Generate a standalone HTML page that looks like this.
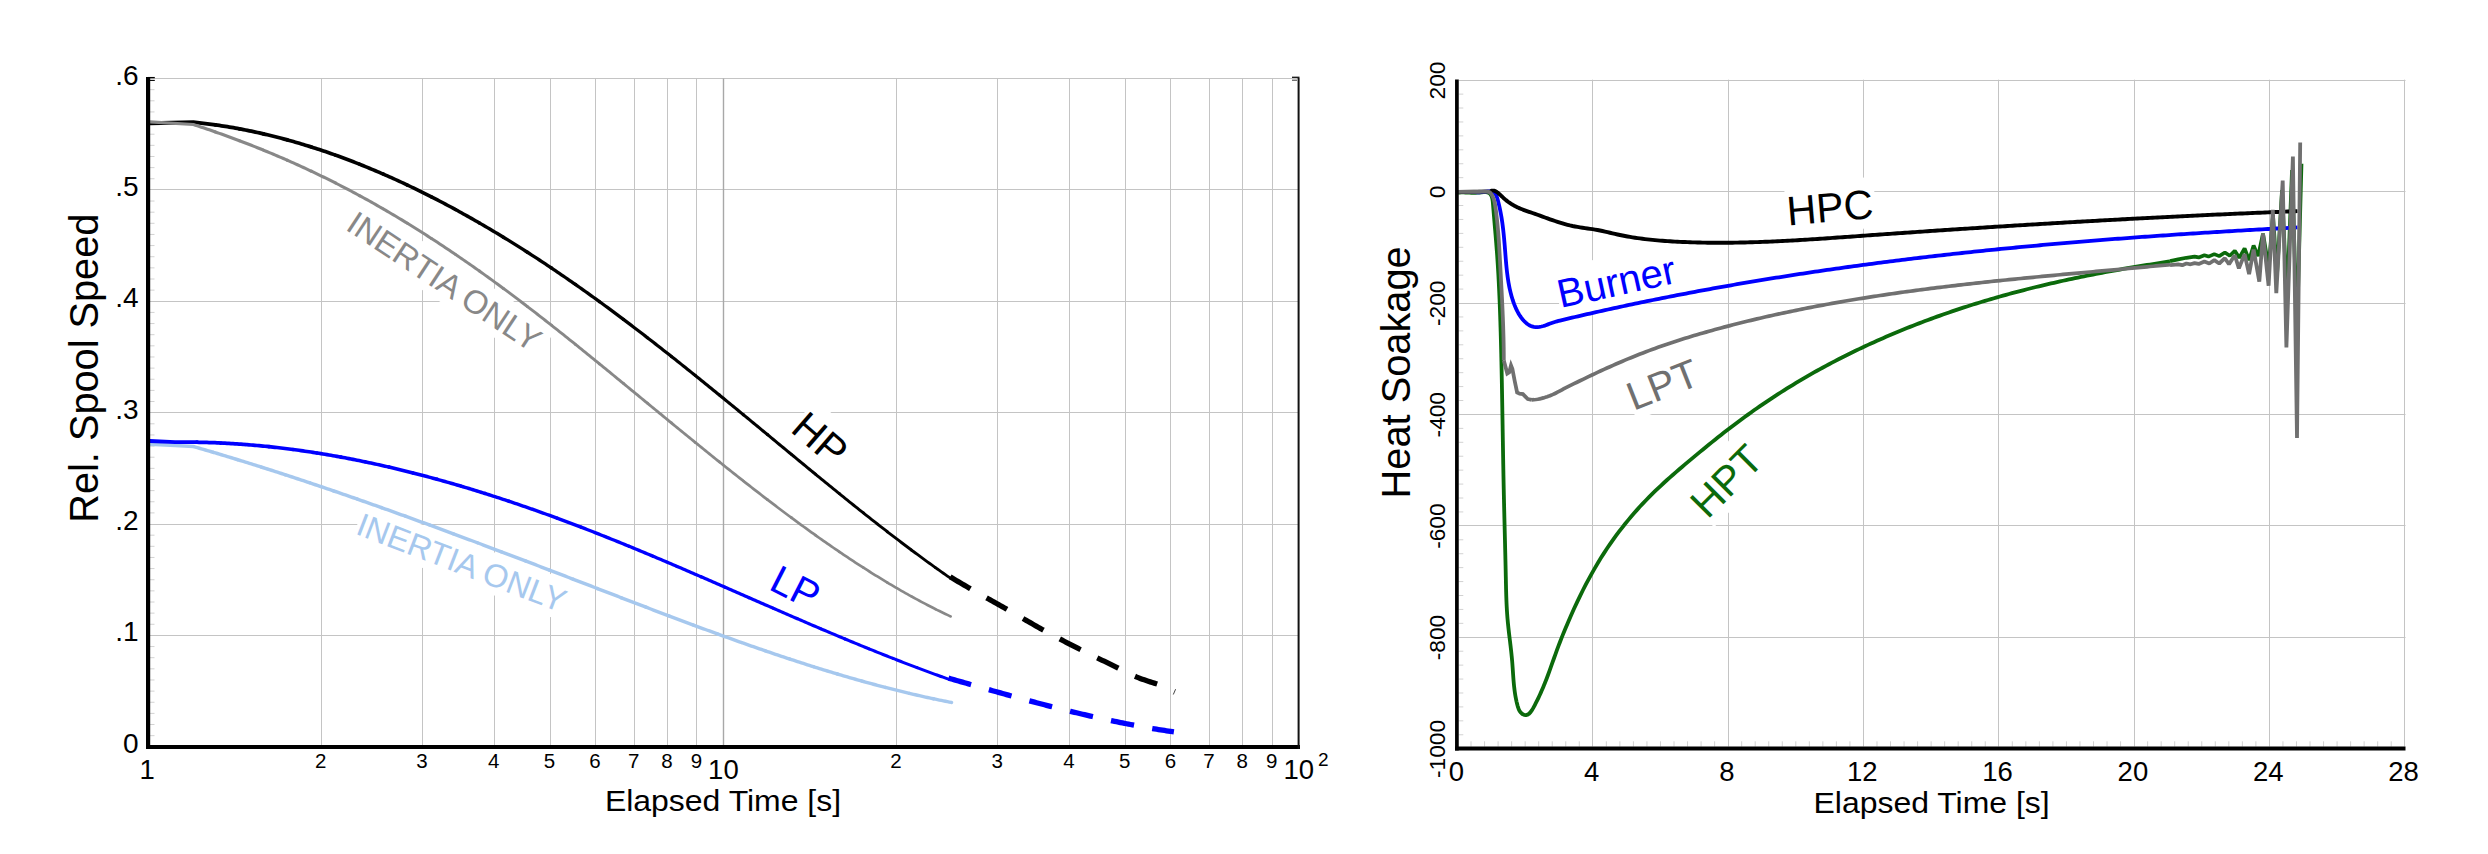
<!DOCTYPE html>
<html><head><meta charset="utf-8"><style>
html,body{margin:0;padding:0;background:#fff;width:2488px;height:854px;overflow:hidden}
svg{display:block}
</style></head><body>
<svg width="2488" height="854" viewBox="0 0 2488 854">
<rect width="2488" height="854" fill="#fff"/>
<line x1="150" y1="635.50" x2="1298" y2="635.50" stroke="#c4c4c4" stroke-width="1"/>
<line x1="150" y1="524.50" x2="1298" y2="524.50" stroke="#c4c4c4" stroke-width="1"/>
<line x1="150" y1="412.50" x2="1298" y2="412.50" stroke="#c4c4c4" stroke-width="1"/>
<line x1="150" y1="301.50" x2="1298" y2="301.50" stroke="#c4c4c4" stroke-width="1"/>
<line x1="150" y1="189.50" x2="1298" y2="189.50" stroke="#c4c4c4" stroke-width="1"/>
<line x1="150" y1="78.50" x2="1298" y2="78.50" stroke="#c4c4c4" stroke-width="1"/>
<line x1="321.50" y1="78.52" x2="321.50" y2="745" stroke="#c4c4c4" stroke-width="1"/>
<line x1="422.50" y1="78.52" x2="422.50" y2="745" stroke="#c4c4c4" stroke-width="1"/>
<line x1="494.50" y1="78.52" x2="494.50" y2="745" stroke="#c4c4c4" stroke-width="1"/>
<line x1="550.50" y1="78.52" x2="550.50" y2="745" stroke="#c4c4c4" stroke-width="1"/>
<line x1="595.50" y1="78.52" x2="595.50" y2="745" stroke="#c4c4c4" stroke-width="1"/>
<line x1="634.50" y1="78.52" x2="634.50" y2="745" stroke="#c4c4c4" stroke-width="1"/>
<line x1="667.50" y1="78.52" x2="667.50" y2="745" stroke="#c4c4c4" stroke-width="1"/>
<line x1="696.50" y1="78.52" x2="696.50" y2="745" stroke="#c4c4c4" stroke-width="1"/>
<line x1="723.50" y1="78.52" x2="723.50" y2="745" stroke="#a8a8a8" stroke-width="1.4"/>
<line x1="896.50" y1="78.52" x2="896.50" y2="745" stroke="#c4c4c4" stroke-width="1"/>
<line x1="997.50" y1="78.52" x2="997.50" y2="745" stroke="#c4c4c4" stroke-width="1"/>
<line x1="1069.50" y1="78.52" x2="1069.50" y2="745" stroke="#c4c4c4" stroke-width="1"/>
<line x1="1125.50" y1="78.52" x2="1125.50" y2="745" stroke="#c4c4c4" stroke-width="1"/>
<line x1="1170.50" y1="78.52" x2="1170.50" y2="745" stroke="#c4c4c4" stroke-width="1"/>
<line x1="1209.50" y1="78.52" x2="1209.50" y2="745" stroke="#c4c4c4" stroke-width="1"/>
<line x1="1242.50" y1="78.52" x2="1242.50" y2="745" stroke="#c4c4c4" stroke-width="1"/>
<line x1="1272.50" y1="78.52" x2="1272.50" y2="745" stroke="#c4c4c4" stroke-width="1"/>
<line x1="150" y1="735.66" x2="154.5" y2="735.66" stroke="#d2d2d2" stroke-width="1"/>
<line x1="150" y1="724.52" x2="154.5" y2="724.52" stroke="#d2d2d2" stroke-width="1"/>
<line x1="150" y1="713.39" x2="154.5" y2="713.39" stroke="#d2d2d2" stroke-width="1"/>
<line x1="150" y1="702.25" x2="154.5" y2="702.25" stroke="#d2d2d2" stroke-width="1"/>
<line x1="150" y1="691.11" x2="154.5" y2="691.11" stroke="#d2d2d2" stroke-width="1"/>
<line x1="150" y1="679.97" x2="154.5" y2="679.97" stroke="#d2d2d2" stroke-width="1"/>
<line x1="150" y1="668.83" x2="154.5" y2="668.83" stroke="#d2d2d2" stroke-width="1"/>
<line x1="150" y1="657.70" x2="154.5" y2="657.70" stroke="#d2d2d2" stroke-width="1"/>
<line x1="150" y1="646.56" x2="154.5" y2="646.56" stroke="#d2d2d2" stroke-width="1"/>
<line x1="150" y1="624.28" x2="154.5" y2="624.28" stroke="#d2d2d2" stroke-width="1"/>
<line x1="150" y1="613.14" x2="154.5" y2="613.14" stroke="#d2d2d2" stroke-width="1"/>
<line x1="150" y1="602.01" x2="154.5" y2="602.01" stroke="#d2d2d2" stroke-width="1"/>
<line x1="150" y1="590.87" x2="154.5" y2="590.87" stroke="#d2d2d2" stroke-width="1"/>
<line x1="150" y1="579.73" x2="154.5" y2="579.73" stroke="#d2d2d2" stroke-width="1"/>
<line x1="150" y1="568.59" x2="154.5" y2="568.59" stroke="#d2d2d2" stroke-width="1"/>
<line x1="150" y1="557.45" x2="154.5" y2="557.45" stroke="#d2d2d2" stroke-width="1"/>
<line x1="150" y1="546.32" x2="154.5" y2="546.32" stroke="#d2d2d2" stroke-width="1"/>
<line x1="150" y1="535.18" x2="154.5" y2="535.18" stroke="#d2d2d2" stroke-width="1"/>
<line x1="150" y1="512.90" x2="154.5" y2="512.90" stroke="#d2d2d2" stroke-width="1"/>
<line x1="150" y1="501.76" x2="154.5" y2="501.76" stroke="#d2d2d2" stroke-width="1"/>
<line x1="150" y1="490.63" x2="154.5" y2="490.63" stroke="#d2d2d2" stroke-width="1"/>
<line x1="150" y1="479.49" x2="154.5" y2="479.49" stroke="#d2d2d2" stroke-width="1"/>
<line x1="150" y1="468.35" x2="154.5" y2="468.35" stroke="#d2d2d2" stroke-width="1"/>
<line x1="150" y1="457.21" x2="154.5" y2="457.21" stroke="#d2d2d2" stroke-width="1"/>
<line x1="150" y1="446.07" x2="154.5" y2="446.07" stroke="#d2d2d2" stroke-width="1"/>
<line x1="150" y1="434.94" x2="154.5" y2="434.94" stroke="#d2d2d2" stroke-width="1"/>
<line x1="150" y1="423.80" x2="154.5" y2="423.80" stroke="#d2d2d2" stroke-width="1"/>
<line x1="150" y1="401.52" x2="154.5" y2="401.52" stroke="#d2d2d2" stroke-width="1"/>
<line x1="150" y1="390.38" x2="154.5" y2="390.38" stroke="#d2d2d2" stroke-width="1"/>
<line x1="150" y1="379.25" x2="154.5" y2="379.25" stroke="#d2d2d2" stroke-width="1"/>
<line x1="150" y1="368.11" x2="154.5" y2="368.11" stroke="#d2d2d2" stroke-width="1"/>
<line x1="150" y1="356.97" x2="154.5" y2="356.97" stroke="#d2d2d2" stroke-width="1"/>
<line x1="150" y1="345.83" x2="154.5" y2="345.83" stroke="#d2d2d2" stroke-width="1"/>
<line x1="150" y1="334.69" x2="154.5" y2="334.69" stroke="#d2d2d2" stroke-width="1"/>
<line x1="150" y1="323.56" x2="154.5" y2="323.56" stroke="#d2d2d2" stroke-width="1"/>
<line x1="150" y1="312.42" x2="154.5" y2="312.42" stroke="#d2d2d2" stroke-width="1"/>
<line x1="150" y1="290.14" x2="154.5" y2="290.14" stroke="#d2d2d2" stroke-width="1"/>
<line x1="150" y1="279.00" x2="154.5" y2="279.00" stroke="#d2d2d2" stroke-width="1"/>
<line x1="150" y1="267.87" x2="154.5" y2="267.87" stroke="#d2d2d2" stroke-width="1"/>
<line x1="150" y1="256.73" x2="154.5" y2="256.73" stroke="#d2d2d2" stroke-width="1"/>
<line x1="150" y1="245.59" x2="154.5" y2="245.59" stroke="#d2d2d2" stroke-width="1"/>
<line x1="150" y1="234.45" x2="154.5" y2="234.45" stroke="#d2d2d2" stroke-width="1"/>
<line x1="150" y1="223.31" x2="154.5" y2="223.31" stroke="#d2d2d2" stroke-width="1"/>
<line x1="150" y1="212.18" x2="154.5" y2="212.18" stroke="#d2d2d2" stroke-width="1"/>
<line x1="150" y1="201.04" x2="154.5" y2="201.04" stroke="#d2d2d2" stroke-width="1"/>
<line x1="150" y1="178.76" x2="154.5" y2="178.76" stroke="#d2d2d2" stroke-width="1"/>
<line x1="150" y1="167.62" x2="154.5" y2="167.62" stroke="#d2d2d2" stroke-width="1"/>
<line x1="150" y1="156.49" x2="154.5" y2="156.49" stroke="#d2d2d2" stroke-width="1"/>
<line x1="150" y1="145.35" x2="154.5" y2="145.35" stroke="#d2d2d2" stroke-width="1"/>
<line x1="150" y1="134.21" x2="154.5" y2="134.21" stroke="#d2d2d2" stroke-width="1"/>
<line x1="150" y1="123.07" x2="154.5" y2="123.07" stroke="#d2d2d2" stroke-width="1"/>
<line x1="150" y1="111.93" x2="154.5" y2="111.93" stroke="#d2d2d2" stroke-width="1"/>
<line x1="150" y1="100.80" x2="154.5" y2="100.80" stroke="#d2d2d2" stroke-width="1"/>
<line x1="150" y1="89.66" x2="154.5" y2="89.66" stroke="#d2d2d2" stroke-width="1"/>
<line x1="1459" y1="80.50" x2="2405.5" y2="80.50" stroke="#c4c4c4" stroke-width="1"/>
<line x1="1459" y1="191.50" x2="2405.5" y2="191.50" stroke="#c4c4c4" stroke-width="1"/>
<line x1="1459" y1="303.50" x2="2405.5" y2="303.50" stroke="#c4c4c4" stroke-width="1"/>
<line x1="1459" y1="414.50" x2="2405.5" y2="414.50" stroke="#c4c4c4" stroke-width="1"/>
<line x1="1459" y1="525.50" x2="2405.5" y2="525.50" stroke="#c4c4c4" stroke-width="1"/>
<line x1="1459" y1="637.50" x2="2405.5" y2="637.50" stroke="#c4c4c4" stroke-width="1"/>
<line x1="1592.50" y1="79.68" x2="1592.50" y2="746.5" stroke="#c4c4c4" stroke-width="1"/>
<line x1="1728.50" y1="79.68" x2="1728.50" y2="746.5" stroke="#c4c4c4" stroke-width="1"/>
<line x1="1863.50" y1="79.68" x2="1863.50" y2="746.5" stroke="#c4c4c4" stroke-width="1"/>
<line x1="1998.50" y1="79.68" x2="1998.50" y2="746.5" stroke="#c4c4c4" stroke-width="1"/>
<line x1="2134.50" y1="79.68" x2="2134.50" y2="746.5" stroke="#c4c4c4" stroke-width="1"/>
<line x1="2269.50" y1="79.68" x2="2269.50" y2="746.5" stroke="#c4c4c4" stroke-width="1"/>
<line x1="2404.50" y1="79.68" x2="2404.50" y2="746.5" stroke="#c4c4c4" stroke-width="1"/>
<line x1="1471.03" y1="746.6" x2="1471.03" y2="741.3" stroke="#d2d2d2" stroke-width="1"/>
<line x1="1484.56" y1="746.6" x2="1484.56" y2="741.3" stroke="#d2d2d2" stroke-width="1"/>
<line x1="1498.10" y1="746.6" x2="1498.10" y2="741.3" stroke="#d2d2d2" stroke-width="1"/>
<line x1="1511.63" y1="746.6" x2="1511.63" y2="741.3" stroke="#d2d2d2" stroke-width="1"/>
<line x1="1525.16" y1="746.6" x2="1525.16" y2="741.3" stroke="#d2d2d2" stroke-width="1"/>
<line x1="1538.69" y1="746.6" x2="1538.69" y2="741.3" stroke="#d2d2d2" stroke-width="1"/>
<line x1="1552.22" y1="746.6" x2="1552.22" y2="741.3" stroke="#d2d2d2" stroke-width="1"/>
<line x1="1565.76" y1="746.6" x2="1565.76" y2="741.3" stroke="#d2d2d2" stroke-width="1"/>
<line x1="1579.29" y1="746.6" x2="1579.29" y2="741.3" stroke="#d2d2d2" stroke-width="1"/>
<line x1="1606.35" y1="746.6" x2="1606.35" y2="741.3" stroke="#d2d2d2" stroke-width="1"/>
<line x1="1619.88" y1="746.6" x2="1619.88" y2="741.3" stroke="#d2d2d2" stroke-width="1"/>
<line x1="1633.42" y1="746.6" x2="1633.42" y2="741.3" stroke="#d2d2d2" stroke-width="1"/>
<line x1="1646.95" y1="746.6" x2="1646.95" y2="741.3" stroke="#d2d2d2" stroke-width="1"/>
<line x1="1660.48" y1="746.6" x2="1660.48" y2="741.3" stroke="#d2d2d2" stroke-width="1"/>
<line x1="1674.01" y1="746.6" x2="1674.01" y2="741.3" stroke="#d2d2d2" stroke-width="1"/>
<line x1="1687.54" y1="746.6" x2="1687.54" y2="741.3" stroke="#d2d2d2" stroke-width="1"/>
<line x1="1701.08" y1="746.6" x2="1701.08" y2="741.3" stroke="#d2d2d2" stroke-width="1"/>
<line x1="1714.61" y1="746.6" x2="1714.61" y2="741.3" stroke="#d2d2d2" stroke-width="1"/>
<line x1="1741.67" y1="746.6" x2="1741.67" y2="741.3" stroke="#d2d2d2" stroke-width="1"/>
<line x1="1755.20" y1="746.6" x2="1755.20" y2="741.3" stroke="#d2d2d2" stroke-width="1"/>
<line x1="1768.74" y1="746.6" x2="1768.74" y2="741.3" stroke="#d2d2d2" stroke-width="1"/>
<line x1="1782.27" y1="746.6" x2="1782.27" y2="741.3" stroke="#d2d2d2" stroke-width="1"/>
<line x1="1795.80" y1="746.6" x2="1795.80" y2="741.3" stroke="#d2d2d2" stroke-width="1"/>
<line x1="1809.33" y1="746.6" x2="1809.33" y2="741.3" stroke="#d2d2d2" stroke-width="1"/>
<line x1="1822.86" y1="746.6" x2="1822.86" y2="741.3" stroke="#d2d2d2" stroke-width="1"/>
<line x1="1836.40" y1="746.6" x2="1836.40" y2="741.3" stroke="#d2d2d2" stroke-width="1"/>
<line x1="1849.93" y1="746.6" x2="1849.93" y2="741.3" stroke="#d2d2d2" stroke-width="1"/>
<line x1="1876.99" y1="746.6" x2="1876.99" y2="741.3" stroke="#d2d2d2" stroke-width="1"/>
<line x1="1890.52" y1="746.6" x2="1890.52" y2="741.3" stroke="#d2d2d2" stroke-width="1"/>
<line x1="1904.06" y1="746.6" x2="1904.06" y2="741.3" stroke="#d2d2d2" stroke-width="1"/>
<line x1="1917.59" y1="746.6" x2="1917.59" y2="741.3" stroke="#d2d2d2" stroke-width="1"/>
<line x1="1931.12" y1="746.6" x2="1931.12" y2="741.3" stroke="#d2d2d2" stroke-width="1"/>
<line x1="1944.65" y1="746.6" x2="1944.65" y2="741.3" stroke="#d2d2d2" stroke-width="1"/>
<line x1="1958.18" y1="746.6" x2="1958.18" y2="741.3" stroke="#d2d2d2" stroke-width="1"/>
<line x1="1971.72" y1="746.6" x2="1971.72" y2="741.3" stroke="#d2d2d2" stroke-width="1"/>
<line x1="1985.25" y1="746.6" x2="1985.25" y2="741.3" stroke="#d2d2d2" stroke-width="1"/>
<line x1="2012.31" y1="746.6" x2="2012.31" y2="741.3" stroke="#d2d2d2" stroke-width="1"/>
<line x1="2025.84" y1="746.6" x2="2025.84" y2="741.3" stroke="#d2d2d2" stroke-width="1"/>
<line x1="2039.38" y1="746.6" x2="2039.38" y2="741.3" stroke="#d2d2d2" stroke-width="1"/>
<line x1="2052.91" y1="746.6" x2="2052.91" y2="741.3" stroke="#d2d2d2" stroke-width="1"/>
<line x1="2066.44" y1="746.6" x2="2066.44" y2="741.3" stroke="#d2d2d2" stroke-width="1"/>
<line x1="2079.97" y1="746.6" x2="2079.97" y2="741.3" stroke="#d2d2d2" stroke-width="1"/>
<line x1="2093.50" y1="746.6" x2="2093.50" y2="741.3" stroke="#d2d2d2" stroke-width="1"/>
<line x1="2107.04" y1="746.6" x2="2107.04" y2="741.3" stroke="#d2d2d2" stroke-width="1"/>
<line x1="2120.57" y1="746.6" x2="2120.57" y2="741.3" stroke="#d2d2d2" stroke-width="1"/>
<line x1="2147.63" y1="746.6" x2="2147.63" y2="741.3" stroke="#d2d2d2" stroke-width="1"/>
<line x1="2161.16" y1="746.6" x2="2161.16" y2="741.3" stroke="#d2d2d2" stroke-width="1"/>
<line x1="2174.70" y1="746.6" x2="2174.70" y2="741.3" stroke="#d2d2d2" stroke-width="1"/>
<line x1="2188.23" y1="746.6" x2="2188.23" y2="741.3" stroke="#d2d2d2" stroke-width="1"/>
<line x1="2201.76" y1="746.6" x2="2201.76" y2="741.3" stroke="#d2d2d2" stroke-width="1"/>
<line x1="2215.29" y1="746.6" x2="2215.29" y2="741.3" stroke="#d2d2d2" stroke-width="1"/>
<line x1="2228.82" y1="746.6" x2="2228.82" y2="741.3" stroke="#d2d2d2" stroke-width="1"/>
<line x1="2242.36" y1="746.6" x2="2242.36" y2="741.3" stroke="#d2d2d2" stroke-width="1"/>
<line x1="2255.89" y1="746.6" x2="2255.89" y2="741.3" stroke="#d2d2d2" stroke-width="1"/>
<line x1="2282.95" y1="746.6" x2="2282.95" y2="741.3" stroke="#d2d2d2" stroke-width="1"/>
<line x1="2296.48" y1="746.6" x2="2296.48" y2="741.3" stroke="#d2d2d2" stroke-width="1"/>
<line x1="2310.02" y1="746.6" x2="2310.02" y2="741.3" stroke="#d2d2d2" stroke-width="1"/>
<line x1="2323.55" y1="746.6" x2="2323.55" y2="741.3" stroke="#d2d2d2" stroke-width="1"/>
<line x1="2337.08" y1="746.6" x2="2337.08" y2="741.3" stroke="#d2d2d2" stroke-width="1"/>
<line x1="2350.61" y1="746.6" x2="2350.61" y2="741.3" stroke="#d2d2d2" stroke-width="1"/>
<line x1="2364.14" y1="746.6" x2="2364.14" y2="741.3" stroke="#d2d2d2" stroke-width="1"/>
<line x1="2377.68" y1="746.6" x2="2377.68" y2="741.3" stroke="#d2d2d2" stroke-width="1"/>
<line x1="2391.21" y1="746.6" x2="2391.21" y2="741.3" stroke="#d2d2d2" stroke-width="1"/>
<line x1="1458.5" y1="94.11" x2="1463.3" y2="94.11" stroke="#d2d2d2" stroke-width="1"/>
<line x1="1458.5" y1="108.03" x2="1463.3" y2="108.03" stroke="#d2d2d2" stroke-width="1"/>
<line x1="1458.5" y1="121.96" x2="1463.3" y2="121.96" stroke="#d2d2d2" stroke-width="1"/>
<line x1="1458.5" y1="135.89" x2="1463.3" y2="135.89" stroke="#d2d2d2" stroke-width="1"/>
<line x1="1458.5" y1="149.82" x2="1463.3" y2="149.82" stroke="#d2d2d2" stroke-width="1"/>
<line x1="1458.5" y1="163.75" x2="1463.3" y2="163.75" stroke="#d2d2d2" stroke-width="1"/>
<line x1="1458.5" y1="177.67" x2="1463.3" y2="177.67" stroke="#d2d2d2" stroke-width="1"/>
<line x1="1458.5" y1="205.53" x2="1463.3" y2="205.53" stroke="#d2d2d2" stroke-width="1"/>
<line x1="1458.5" y1="219.45" x2="1463.3" y2="219.45" stroke="#d2d2d2" stroke-width="1"/>
<line x1="1458.5" y1="233.38" x2="1463.3" y2="233.38" stroke="#d2d2d2" stroke-width="1"/>
<line x1="1458.5" y1="247.31" x2="1463.3" y2="247.31" stroke="#d2d2d2" stroke-width="1"/>
<line x1="1458.5" y1="261.24" x2="1463.3" y2="261.24" stroke="#d2d2d2" stroke-width="1"/>
<line x1="1458.5" y1="275.17" x2="1463.3" y2="275.17" stroke="#d2d2d2" stroke-width="1"/>
<line x1="1458.5" y1="289.09" x2="1463.3" y2="289.09" stroke="#d2d2d2" stroke-width="1"/>
<line x1="1458.5" y1="316.95" x2="1463.3" y2="316.95" stroke="#d2d2d2" stroke-width="1"/>
<line x1="1458.5" y1="330.88" x2="1463.3" y2="330.88" stroke="#d2d2d2" stroke-width="1"/>
<line x1="1458.5" y1="344.80" x2="1463.3" y2="344.80" stroke="#d2d2d2" stroke-width="1"/>
<line x1="1458.5" y1="358.73" x2="1463.3" y2="358.73" stroke="#d2d2d2" stroke-width="1"/>
<line x1="1458.5" y1="372.66" x2="1463.3" y2="372.66" stroke="#d2d2d2" stroke-width="1"/>
<line x1="1458.5" y1="386.59" x2="1463.3" y2="386.59" stroke="#d2d2d2" stroke-width="1"/>
<line x1="1458.5" y1="400.51" x2="1463.3" y2="400.51" stroke="#d2d2d2" stroke-width="1"/>
<line x1="1458.5" y1="428.37" x2="1463.3" y2="428.37" stroke="#d2d2d2" stroke-width="1"/>
<line x1="1458.5" y1="442.30" x2="1463.3" y2="442.30" stroke="#d2d2d2" stroke-width="1"/>
<line x1="1458.5" y1="456.22" x2="1463.3" y2="456.22" stroke="#d2d2d2" stroke-width="1"/>
<line x1="1458.5" y1="470.15" x2="1463.3" y2="470.15" stroke="#d2d2d2" stroke-width="1"/>
<line x1="1458.5" y1="484.08" x2="1463.3" y2="484.08" stroke="#d2d2d2" stroke-width="1"/>
<line x1="1458.5" y1="498.00" x2="1463.3" y2="498.00" stroke="#d2d2d2" stroke-width="1"/>
<line x1="1458.5" y1="511.93" x2="1463.3" y2="511.93" stroke="#d2d2d2" stroke-width="1"/>
<line x1="1458.5" y1="539.79" x2="1463.3" y2="539.79" stroke="#d2d2d2" stroke-width="1"/>
<line x1="1458.5" y1="553.72" x2="1463.3" y2="553.72" stroke="#d2d2d2" stroke-width="1"/>
<line x1="1458.5" y1="567.64" x2="1463.3" y2="567.64" stroke="#d2d2d2" stroke-width="1"/>
<line x1="1458.5" y1="581.57" x2="1463.3" y2="581.57" stroke="#d2d2d2" stroke-width="1"/>
<line x1="1458.5" y1="595.50" x2="1463.3" y2="595.50" stroke="#d2d2d2" stroke-width="1"/>
<line x1="1458.5" y1="609.43" x2="1463.3" y2="609.43" stroke="#d2d2d2" stroke-width="1"/>
<line x1="1458.5" y1="623.35" x2="1463.3" y2="623.35" stroke="#d2d2d2" stroke-width="1"/>
<line x1="1458.5" y1="651.21" x2="1463.3" y2="651.21" stroke="#d2d2d2" stroke-width="1"/>
<line x1="1458.5" y1="665.13" x2="1463.3" y2="665.13" stroke="#d2d2d2" stroke-width="1"/>
<line x1="1458.5" y1="679.06" x2="1463.3" y2="679.06" stroke="#d2d2d2" stroke-width="1"/>
<line x1="1458.5" y1="692.99" x2="1463.3" y2="692.99" stroke="#d2d2d2" stroke-width="1"/>
<line x1="1458.5" y1="706.92" x2="1463.3" y2="706.92" stroke="#d2d2d2" stroke-width="1"/>
<line x1="1458.5" y1="720.85" x2="1463.3" y2="720.85" stroke="#d2d2d2" stroke-width="1"/>
<line x1="1458.5" y1="734.77" x2="1463.3" y2="734.77" stroke="#d2d2d2" stroke-width="1"/>
<g transform="translate(344.50,229.00) rotate(33.50)"><rect x="-0.50" y="-33.00" width="232.22" height="40.92" fill="#fff"/><text x="0" y="0" font-size="33" fill="#888888" font-family="Liberation Sans, sans-serif">INERTIA ONLY</text></g>
<g transform="translate(354.40,533.50) rotate(21.00)"><rect x="-0.50" y="-32.50" width="228.75" height="40.30" fill="#fff"/><text x="0" y="0" font-size="32.5" fill="#a6c8ee" font-family="Liberation Sans, sans-serif">INERTIA ONLY</text></g>
<g transform="translate(789.30,430.70) rotate(41.00)"><rect x="-0.50" y="-41.00" width="59.95" height="50.84" fill="#fff"/><text x="0" y="0" font-size="41" fill="#000" font-family="Liberation Sans, sans-serif">HP</text></g>
<g transform="translate(767.50,588.70) rotate(27.00)"><rect x="-0.50" y="-40.00" width="51.92" height="49.60" fill="#fff"/><text x="0" y="0" font-size="40" fill="#0000ff" font-family="Liberation Sans, sans-serif">LP</text></g>
<g transform="translate(1787.90,225.40) rotate(-5.00)"><rect x="-0.50" y="-41.00" width="89.55" height="50.84" fill="#fff"/><text x="0" y="0" font-size="41" fill="#000" font-family="Liberation Sans, sans-serif">HPC</text></g>
<g transform="translate(1560.60,308.10) rotate(-12.30)"><rect x="-0.50" y="-40.00" width="123.04" height="49.60" fill="#fff"/><text x="0" y="0" font-size="40" fill="#0000ff" font-family="Liberation Sans, sans-serif">Burner</text></g>
<g transform="translate(1633.60,410.90) rotate(-21.50)"><rect x="-0.50" y="-40.00" width="76.36" height="49.60" fill="#fff"/><text x="0" y="0" font-size="40" fill="#707070" font-family="Liberation Sans, sans-serif">LPT</text></g>
<g transform="translate(1707.50,519.90) rotate(-45.00)"><rect x="-0.50" y="-41.00" width="85.00" height="50.84" fill="#fff"/><text x="0" y="0" font-size="41" fill="#0b6a0b" font-family="Liberation Sans, sans-serif">HPT</text></g>
<path d="M150.00,444.30 L175.10,445.40 L193.40,446.50 L195.40,447.08 L197.40,447.65 L199.40,448.23 L201.40,448.82 L203.40,449.40 L205.40,449.99 L207.40,450.57 L209.40,451.16 L211.40,451.75 L213.40,452.35" fill="none" stroke="#a6c8ee" stroke-width="3.50" stroke-linecap="round" stroke-linejoin="round"/>
<path d="M213.40,452.35 L215.40,452.94 L217.40,453.54 L219.40,454.14 L221.40,454.74 L223.40,455.34 L225.40,455.94 L227.40,456.55 L229.40,457.15 L231.40,457.76 L233.40,458.37 L235.40,458.98 L237.40,459.60" fill="none" stroke="#a6c8ee" stroke-width="3.49" stroke-linecap="round" stroke-linejoin="round"/>
<path d="M237.40,459.60 L239.40,460.21 L241.40,460.83 L243.40,461.45 L245.40,462.07 L247.40,462.69 L249.40,463.31 L251.40,463.94 L253.40,464.56 L255.40,465.19 L257.40,465.82 L259.40,466.45 L261.40,467.09" fill="none" stroke="#a6c8ee" stroke-width="3.49" stroke-linecap="round" stroke-linejoin="round"/>
<path d="M261.40,467.09 L263.40,467.72 L265.40,468.36 L267.40,468.99 L269.40,469.63 L271.40,470.27 L273.40,470.92 L275.40,471.56 L277.40,472.20 L279.40,472.85 L281.40,473.50 L283.40,474.15 L285.40,474.80" fill="none" stroke="#a6c8ee" stroke-width="3.48" stroke-linecap="round" stroke-linejoin="round"/>
<path d="M285.40,474.80 L287.40,475.45 L289.40,476.11 L291.40,476.76 L293.40,477.42 L295.40,478.08 L297.40,478.74 L299.40,479.40 L301.40,480.06 L303.40,480.72 L305.40,481.39 L307.40,482.06 L309.40,482.72" fill="none" stroke="#a6c8ee" stroke-width="3.48" stroke-linecap="round" stroke-linejoin="round"/>
<path d="M309.40,482.72 L311.40,483.39 L313.40,484.06 L315.40,484.73 L317.40,485.41 L319.40,486.08 L321.40,486.76 L323.40,487.44 L325.40,488.11 L327.40,488.79 L329.40,489.47 L331.40,490.16 L333.40,490.84" fill="none" stroke="#a6c8ee" stroke-width="3.48" stroke-linecap="round" stroke-linejoin="round"/>
<path d="M333.40,490.84 L335.40,491.52 L337.40,492.21 L339.40,492.90 L341.40,493.59 L343.40,494.28 L345.40,494.97 L347.40,495.66 L349.40,496.35 L351.40,497.05 L353.40,497.74 L355.40,498.44 L357.40,499.14" fill="none" stroke="#a6c8ee" stroke-width="3.48" stroke-linecap="round" stroke-linejoin="round"/>
<path d="M357.40,499.14 L359.40,499.83 L361.40,500.53 L363.40,501.24 L365.40,501.94 L367.40,502.64 L369.40,503.35 L371.40,504.05 L373.40,504.76 L375.40,505.46 L377.40,506.17 L379.40,506.88 L381.40,507.59" fill="none" stroke="#a6c8ee" stroke-width="3.47" stroke-linecap="round" stroke-linejoin="round"/>
<path d="M381.40,507.59 L383.40,508.31 L385.40,509.02 L387.40,509.73 L389.40,510.45 L391.40,511.16 L393.40,511.88 L395.40,512.60 L397.40,513.32 L399.40,514.04 L401.40,514.76 L403.40,515.48 L405.40,516.20" fill="none" stroke="#a6c8ee" stroke-width="3.47" stroke-linecap="round" stroke-linejoin="round"/>
<path d="M405.40,516.20 L407.40,516.92 L409.40,517.65 L411.40,518.37 L413.40,519.10 L415.40,519.83 L417.40,520.55 L419.40,521.28 L421.40,522.01 L423.40,522.74 L425.40,523.47 L427.40,524.21 L429.40,524.94" fill="none" stroke="#a6c8ee" stroke-width="3.47" stroke-linecap="round" stroke-linejoin="round"/>
<path d="M429.40,524.94 L431.40,525.67 L433.40,526.41 L435.40,527.14 L437.40,527.88 L439.40,528.62 L441.40,529.35 L443.40,530.09 L445.40,530.83 L447.40,531.57 L449.40,532.31 L451.40,533.05 L453.40,533.80" fill="none" stroke="#a6c8ee" stroke-width="3.46" stroke-linecap="round" stroke-linejoin="round"/>
<path d="M453.40,533.80 L455.40,534.54 L457.40,535.28 L459.40,536.03 L461.40,536.77 L463.40,537.52 L465.40,538.26 L467.40,539.01 L469.40,539.76 L471.40,540.50 L473.40,541.25 L475.40,542.00 L477.40,542.75" fill="none" stroke="#a6c8ee" stroke-width="3.46" stroke-linecap="round" stroke-linejoin="round"/>
<path d="M477.40,542.75 L479.40,543.50 L481.40,544.25 L483.40,545.01 L485.40,545.76 L487.40,546.51 L489.40,547.27 L491.40,548.02 L493.40,548.77 L495.40,549.53 L497.40,550.28 L499.40,551.04 L501.40,551.80" fill="none" stroke="#a6c8ee" stroke-width="3.46" stroke-linecap="round" stroke-linejoin="round"/>
<path d="M501.40,551.80 L503.40,552.55 L505.40,553.31 L507.40,554.07 L509.40,554.83 L511.40,555.59 L513.40,556.35 L515.40,557.11 L517.40,557.87 L519.40,558.63 L521.40,559.39 L523.40,560.15 L525.40,560.91" fill="none" stroke="#a6c8ee" stroke-width="3.45" stroke-linecap="round" stroke-linejoin="round"/>
<path d="M525.40,560.91 L527.40,561.68 L529.40,562.44 L531.40,563.20 L533.40,563.96 L535.40,564.73 L537.40,565.49 L539.40,566.26 L541.40,567.02 L543.40,567.79 L545.40,568.55 L547.40,569.32 L549.40,570.08" fill="none" stroke="#a6c8ee" stroke-width="3.45" stroke-linecap="round" stroke-linejoin="round"/>
<path d="M549.40,570.08 L551.40,570.85 L553.40,571.62 L555.40,572.38 L557.40,573.15 L559.40,573.92 L561.40,574.69 L563.40,575.45 L565.40,576.22 L567.40,576.99 L569.40,577.76 L571.40,578.53 L573.40,579.30" fill="none" stroke="#a6c8ee" stroke-width="3.45" stroke-linecap="round" stroke-linejoin="round"/>
<path d="M573.40,579.30 L575.40,580.07 L577.40,580.84 L579.40,581.60 L581.40,582.37 L583.40,583.14 L585.40,583.91 L587.40,584.68 L589.40,585.45 L591.40,586.22 L593.40,586.99 L595.40,587.76 L597.40,588.53" fill="none" stroke="#a6c8ee" stroke-width="3.45" stroke-linecap="round" stroke-linejoin="round"/>
<path d="M597.40,588.53 L599.40,589.30 L601.40,590.07 L603.40,590.85 L605.40,591.62 L607.40,592.39 L609.40,593.16 L611.40,593.93 L613.40,594.70 L615.40,595.46 L617.40,596.23 L619.40,597.00 L621.40,597.77" fill="none" stroke="#a6c8ee" stroke-width="3.44" stroke-linecap="round" stroke-linejoin="round"/>
<path d="M621.40,597.77 L623.40,598.54 L625.40,599.31 L627.40,600.08 L629.40,600.84 L631.40,601.61 L633.40,602.38 L635.40,603.14 L637.40,603.91 L639.40,604.68 L641.40,605.44 L643.40,606.20 L645.40,606.97" fill="none" stroke="#a6c8ee" stroke-width="3.44" stroke-linecap="round" stroke-linejoin="round"/>
<path d="M645.40,606.97 L647.40,607.73 L649.40,608.49 L651.40,609.26 L653.40,610.02 L655.40,610.78 L657.40,611.54 L659.40,612.30 L661.40,613.06 L663.40,613.81 L665.40,614.57 L667.40,615.33 L669.40,616.08" fill="none" stroke="#a6c8ee" stroke-width="3.44" stroke-linecap="round" stroke-linejoin="round"/>
<path d="M669.40,616.08 L671.40,616.84 L673.40,617.59 L675.40,618.34 L677.40,619.09 L679.40,619.85 L681.40,620.60 L683.40,621.34 L685.40,622.09 L687.40,622.84 L689.40,623.58 L691.40,624.33 L693.40,625.07" fill="none" stroke="#a6c8ee" stroke-width="3.43" stroke-linecap="round" stroke-linejoin="round"/>
<path d="M693.40,625.07 L695.40,625.81 L697.40,626.55 L699.40,627.29 L701.40,628.03 L703.40,628.77 L705.40,629.51 L707.40,630.24 L709.40,630.97 L711.40,631.71 L713.40,632.44 L715.40,633.17 L717.40,633.89" fill="none" stroke="#a6c8ee" stroke-width="3.43" stroke-linecap="round" stroke-linejoin="round"/>
<path d="M717.40,633.89 L719.40,634.62 L721.40,635.34 L723.40,636.07 L725.40,636.79 L727.40,637.51 L729.40,638.23 L731.40,638.94 L733.40,639.66 L735.40,640.37 L737.40,641.09 L739.40,641.80 L741.40,642.50" fill="none" stroke="#a6c8ee" stroke-width="3.43" stroke-linecap="round" stroke-linejoin="round"/>
<path d="M741.40,642.50 L743.40,643.21 L745.40,643.92 L747.40,644.62 L749.40,645.32 L751.40,646.02 L753.40,646.72 L755.40,647.41 L757.40,648.11 L759.40,648.80 L761.40,649.49 L763.40,650.18 L765.40,650.86" fill="none" stroke="#a6c8ee" stroke-width="3.42" stroke-linecap="round" stroke-linejoin="round"/>
<path d="M765.40,650.86 L767.40,651.55 L769.40,652.23 L771.40,652.91 L773.40,653.59 L775.40,654.26 L777.40,654.94 L779.40,655.61 L781.40,656.28 L783.40,656.94 L785.40,657.61 L787.40,658.27 L789.40,658.93" fill="none" stroke="#a6c8ee" stroke-width="3.42" stroke-linecap="round" stroke-linejoin="round"/>
<path d="M789.40,658.93 L791.40,659.59 L793.40,660.24 L795.40,660.90 L797.40,661.55 L799.40,662.19 L801.40,662.84 L803.40,663.48 L805.40,664.12 L807.40,664.76 L809.40,665.40 L811.40,666.03 L813.40,666.66" fill="none" stroke="#a6c8ee" stroke-width="3.42" stroke-linecap="round" stroke-linejoin="round"/>
<path d="M813.40,666.66 L815.40,667.29 L817.40,667.91 L819.40,668.53 L821.40,669.15 L823.40,669.77 L825.40,670.38 L827.40,670.99 L829.40,671.60 L831.40,672.21 L833.40,672.81 L835.40,673.41 L837.40,674.01" fill="none" stroke="#a6c8ee" stroke-width="3.42" stroke-linecap="round" stroke-linejoin="round"/>
<path d="M837.40,674.01 L839.40,674.60 L841.40,675.19 L843.40,675.78 L845.40,676.37 L847.40,676.95 L849.40,677.53 L851.40,678.10 L853.40,678.68 L855.40,679.25 L857.40,679.81 L859.40,680.38 L861.40,680.94" fill="none" stroke="#a6c8ee" stroke-width="3.41" stroke-linecap="round" stroke-linejoin="round"/>
<path d="M861.40,680.94 L863.40,681.49 L865.40,682.05 L867.40,682.60 L869.40,683.15 L871.40,683.69 L873.40,684.23 L875.40,684.77 L877.40,685.30 L879.40,685.83 L881.40,686.36 L883.40,686.88 L885.40,687.40" fill="none" stroke="#a6c8ee" stroke-width="3.41" stroke-linecap="round" stroke-linejoin="round"/>
<path d="M885.40,687.40 L887.40,687.92 L889.40,688.43 L891.40,688.94 L893.40,689.45 L895.40,689.95 L897.40,690.45 L899.40,690.94 L901.40,691.44 L903.40,691.92 L905.40,692.41 L907.40,692.89 L909.40,693.36" fill="none" stroke="#a6c8ee" stroke-width="3.41" stroke-linecap="round" stroke-linejoin="round"/>
<path d="M909.40,693.36 L911.40,693.84 L913.40,694.31 L915.40,694.77 L917.40,695.23 L919.40,695.69 L921.40,696.14 L923.40,696.59 L925.40,697.04 L927.40,697.48 L929.40,697.91 L931.40,698.35 L933.40,698.78" fill="none" stroke="#a6c8ee" stroke-width="3.40" stroke-linecap="round" stroke-linejoin="round"/>
<path d="M933.40,698.78 L935.40,699.20 L937.40,699.62 L939.40,700.04 L941.40,700.45 L943.40,700.86 L945.40,701.26 L947.40,701.66 L949.40,702.06 L951.40,702.45 L951.60,702.49" fill="none" stroke="#a6c8ee" stroke-width="3.40" stroke-linecap="round" stroke-linejoin="round"/>
<path d="M150.00,441.00 L175.00,442.17 L177.00,442.15 L179.00,442.14 L181.00,442.13 L183.00,442.12 L185.00,442.12 L187.00,442.13 L189.00,442.14 L191.00,442.15 L193.00,442.18 L195.00,442.20 L197.00,442.23" fill="none" stroke="#0000ff" stroke-width="3.78" stroke-linecap="round" stroke-linejoin="round"/>
<path d="M197.00,442.23 L199.00,442.27 L201.00,442.31 L203.00,442.36 L205.00,442.41 L207.00,442.47 L209.00,442.53 L211.00,442.60 L213.00,442.67 L215.00,442.74 L217.00,442.83 L219.00,442.91 L221.00,443.01" fill="none" stroke="#0000ff" stroke-width="3.74" stroke-linecap="round" stroke-linejoin="round"/>
<path d="M221.00,443.01 L223.00,443.10 L225.00,443.20 L227.00,443.31 L229.00,443.42 L231.00,443.54 L233.00,443.66 L235.00,443.79 L237.00,443.92 L239.00,444.05 L241.00,444.20 L243.00,444.34 L245.00,444.49" fill="none" stroke="#0000ff" stroke-width="3.72" stroke-linecap="round" stroke-linejoin="round"/>
<path d="M245.00,444.49 L247.00,444.65 L249.00,444.81 L251.00,444.97 L253.00,445.14 L255.00,445.32 L257.00,445.50 L259.00,445.68 L261.00,445.87 L263.00,446.06 L265.00,446.26 L267.00,446.46 L269.00,446.67" fill="none" stroke="#0000ff" stroke-width="3.69" stroke-linecap="round" stroke-linejoin="round"/>
<path d="M269.00,446.67 L271.00,446.88 L273.00,447.10 L275.00,447.32 L277.00,447.54 L279.00,447.77 L281.00,448.01 L283.00,448.25 L285.00,448.49 L287.00,448.74 L289.00,448.99 L291.00,449.25 L293.00,449.51" fill="none" stroke="#0000ff" stroke-width="3.67" stroke-linecap="round" stroke-linejoin="round"/>
<path d="M293.00,449.51 L295.00,449.78 L297.00,450.05 L299.00,450.32 L301.00,450.60 L303.00,450.89 L305.00,451.18 L307.00,451.47 L309.00,451.77 L311.00,452.07 L313.00,452.38 L315.00,452.69 L317.00,453.00" fill="none" stroke="#0000ff" stroke-width="3.64" stroke-linecap="round" stroke-linejoin="round"/>
<path d="M317.00,453.00 L319.00,453.32 L321.00,453.64 L323.00,453.97 L325.00,454.30 L327.00,454.64 L329.00,454.98 L331.00,455.32 L333.00,455.67 L335.00,456.02 L337.00,456.38 L339.00,456.74 L341.00,457.11" fill="none" stroke="#0000ff" stroke-width="3.62" stroke-linecap="round" stroke-linejoin="round"/>
<path d="M341.00,457.11 L343.00,457.48 L345.00,457.85 L347.00,458.23 L349.00,458.61 L351.00,459.00 L353.00,459.39 L355.00,459.78 L357.00,460.18 L359.00,460.58 L361.00,460.99 L363.00,461.40 L365.00,461.81" fill="none" stroke="#0000ff" stroke-width="3.60" stroke-linecap="round" stroke-linejoin="round"/>
<path d="M365.00,461.81 L367.00,462.23 L369.00,462.65 L371.00,463.08 L373.00,463.51 L375.00,463.94 L377.00,464.38 L379.00,464.82 L381.00,465.27 L383.00,465.72 L385.00,466.17 L387.00,466.63 L389.00,467.09" fill="none" stroke="#0000ff" stroke-width="3.57" stroke-linecap="round" stroke-linejoin="round"/>
<path d="M389.00,467.09 L391.00,467.56 L393.00,468.03 L395.00,468.50 L397.00,468.97 L399.00,469.45 L401.00,469.94 L403.00,470.43 L405.00,470.92 L407.00,471.41 L409.00,471.91 L411.00,472.41 L413.00,472.92" fill="none" stroke="#0000ff" stroke-width="3.55" stroke-linecap="round" stroke-linejoin="round"/>
<path d="M413.00,472.92 L415.00,473.43 L417.00,473.94 L419.00,474.46 L421.00,474.98 L423.00,475.51 L425.00,476.03 L427.00,476.56 L429.00,477.10 L431.00,477.64 L433.00,478.18 L435.00,478.73 L437.00,479.28" fill="none" stroke="#0000ff" stroke-width="3.52" stroke-linecap="round" stroke-linejoin="round"/>
<path d="M437.00,479.28 L439.00,479.83 L441.00,480.38 L443.00,480.94 L445.00,481.51 L447.00,482.07 L449.00,482.64 L451.00,483.22 L453.00,483.79 L455.00,484.37 L457.00,484.96 L459.00,485.54 L461.00,486.13" fill="none" stroke="#0000ff" stroke-width="3.50" stroke-linecap="round" stroke-linejoin="round"/>
<path d="M461.00,486.13 L463.00,486.73 L465.00,487.32 L467.00,487.92 L469.00,488.53 L471.00,489.13 L473.00,489.74 L475.00,490.36 L477.00,490.97 L479.00,491.59 L481.00,492.22 L483.00,492.84 L485.00,493.47" fill="none" stroke="#0000ff" stroke-width="3.48" stroke-linecap="round" stroke-linejoin="round"/>
<path d="M485.00,493.47 L487.00,494.10 L489.00,494.74 L491.00,495.38 L493.00,496.02 L495.00,496.66 L497.00,497.31 L499.00,497.96 L501.00,498.62 L503.00,499.27 L505.00,499.94 L507.00,500.60 L509.00,501.26" fill="none" stroke="#0000ff" stroke-width="3.45" stroke-linecap="round" stroke-linejoin="round"/>
<path d="M509.00,501.26 L511.00,501.93 L513.00,502.61 L515.00,503.28 L517.00,503.96 L519.00,504.64 L521.00,505.33 L523.00,506.01 L525.00,506.70 L527.00,507.40 L529.00,508.09 L531.00,508.79 L533.00,509.49" fill="none" stroke="#0000ff" stroke-width="3.43" stroke-linecap="round" stroke-linejoin="round"/>
<path d="M533.00,509.49 L535.00,510.20 L537.00,510.90 L539.00,511.61 L541.00,512.33 L543.00,513.04 L545.00,513.76 L547.00,514.48 L549.00,515.20 L551.00,515.93 L553.00,516.66 L555.00,517.39 L557.00,518.13" fill="none" stroke="#0000ff" stroke-width="3.40" stroke-linecap="round" stroke-linejoin="round"/>
<path d="M557.00,518.13 L559.00,518.86 L561.00,519.60 L563.00,520.35 L565.00,521.09 L567.00,521.84 L569.00,522.59 L571.00,523.34 L573.00,524.10 L575.00,524.86 L577.00,525.62 L579.00,526.38 L581.00,527.15" fill="none" stroke="#0000ff" stroke-width="3.38" stroke-linecap="round" stroke-linejoin="round"/>
<path d="M581.00,527.15 L583.00,527.92 L585.00,528.69 L587.00,529.46 L589.00,530.24 L591.00,531.02 L593.00,531.80 L595.00,532.58 L597.00,533.37 L599.00,534.15 L601.00,534.94 L603.00,535.74 L605.00,536.53" fill="none" stroke="#0000ff" stroke-width="3.36" stroke-linecap="round" stroke-linejoin="round"/>
<path d="M605.00,536.53 L607.00,537.33 L609.00,538.13 L611.00,538.93 L613.00,539.73 L615.00,540.54 L617.00,541.35 L619.00,542.16 L621.00,542.97 L623.00,543.78 L625.00,544.60 L627.00,545.42 L629.00,546.24" fill="none" stroke="#0000ff" stroke-width="3.33" stroke-linecap="round" stroke-linejoin="round"/>
<path d="M629.00,546.24 L631.00,547.06 L633.00,547.88 L635.00,548.71 L637.00,549.54 L639.00,550.37 L641.00,551.20 L643.00,552.03 L645.00,552.86 L647.00,553.70 L649.00,554.53 L651.00,555.37 L653.00,556.21" fill="none" stroke="#0000ff" stroke-width="3.31" stroke-linecap="round" stroke-linejoin="round"/>
<path d="M653.00,556.21 L655.00,557.06 L657.00,557.90 L659.00,558.74 L661.00,559.59 L663.00,560.44 L665.00,561.28 L667.00,562.13 L669.00,562.98 L671.00,563.84 L673.00,564.69 L675.00,565.55 L677.00,566.40" fill="none" stroke="#0000ff" stroke-width="3.28" stroke-linecap="round" stroke-linejoin="round"/>
<path d="M677.00,566.40 L679.00,567.26 L681.00,568.12 L683.00,568.97 L685.00,569.83 L687.00,570.69 L689.00,571.56 L691.00,572.42 L693.00,573.28 L695.00,574.15 L697.00,575.01 L699.00,575.88 L701.00,576.74" fill="none" stroke="#0000ff" stroke-width="3.26" stroke-linecap="round" stroke-linejoin="round"/>
<path d="M701.00,576.74 L703.00,577.61 L705.00,578.48 L707.00,579.35 L709.00,580.22 L711.00,581.09 L713.00,581.96 L715.00,582.83 L717.00,583.70 L719.00,584.57 L721.00,585.44 L723.00,586.32 L725.00,587.19" fill="none" stroke="#0000ff" stroke-width="3.24" stroke-linecap="round" stroke-linejoin="round"/>
<path d="M725.00,587.19 L727.00,588.06 L729.00,588.93 L731.00,589.81 L733.00,590.68 L735.00,591.56 L737.00,592.43 L739.00,593.30 L741.00,594.18 L743.00,595.05 L745.00,595.93 L747.00,596.80 L749.00,597.68" fill="none" stroke="#0000ff" stroke-width="3.21" stroke-linecap="round" stroke-linejoin="round"/>
<path d="M749.00,597.68 L751.00,598.55 L753.00,599.42 L755.00,600.30 L757.00,601.17 L759.00,602.05 L761.00,602.92 L763.00,603.79 L765.00,604.67 L767.00,605.54 L769.00,606.41 L771.00,607.28 L773.00,608.15" fill="none" stroke="#0000ff" stroke-width="3.19" stroke-linecap="round" stroke-linejoin="round"/>
<path d="M773.00,608.15 L775.00,609.02 L777.00,609.89 L779.00,610.76 L781.00,611.63 L783.00,612.50 L785.00,613.37 L787.00,614.24 L789.00,615.10 L791.00,615.97 L793.00,616.84 L795.00,617.70 L797.00,618.56" fill="none" stroke="#0000ff" stroke-width="3.16" stroke-linecap="round" stroke-linejoin="round"/>
<path d="M797.00,618.56 L799.00,619.43 L801.00,620.29 L803.00,621.15 L805.00,622.01 L807.00,622.87 L809.00,623.73 L811.00,624.58 L813.00,625.44 L815.00,626.29 L817.00,627.15 L819.00,628.00 L821.00,628.85" fill="none" stroke="#0000ff" stroke-width="3.14" stroke-linecap="round" stroke-linejoin="round"/>
<path d="M821.00,628.85 L823.00,629.70 L825.00,630.55 L827.00,631.40 L829.00,632.24 L831.00,633.09 L833.00,633.93 L835.00,634.77 L837.00,635.61 L839.00,636.45 L841.00,637.29 L843.00,638.12 L845.00,638.96" fill="none" stroke="#0000ff" stroke-width="3.12" stroke-linecap="round" stroke-linejoin="round"/>
<path d="M845.00,638.96 L847.00,639.79 L849.00,640.62 L851.00,641.45 L853.00,642.28 L855.00,643.10 L857.00,643.93 L859.00,644.75 L861.00,645.57 L863.00,646.39 L865.00,647.20 L867.00,648.02 L869.00,648.83" fill="none" stroke="#0000ff" stroke-width="3.09" stroke-linecap="round" stroke-linejoin="round"/>
<path d="M869.00,648.83 L871.00,649.64 L873.00,650.45 L875.00,651.25 L877.00,652.06 L879.00,652.86 L881.00,653.66 L883.00,654.46 L885.00,655.25 L887.00,656.05 L889.00,656.84 L891.00,657.62 L893.00,658.41" fill="none" stroke="#0000ff" stroke-width="3.07" stroke-linecap="round" stroke-linejoin="round"/>
<path d="M893.00,658.41 L895.00,659.19 L897.00,659.98 L899.00,660.75 L901.00,661.53 L903.00,662.30 L905.00,663.08 L907.00,663.84 L909.00,664.61 L911.00,665.37 L913.00,666.13 L915.00,666.89 L917.00,667.65" fill="none" stroke="#0000ff" stroke-width="3.04" stroke-linecap="round" stroke-linejoin="round"/>
<path d="M917.00,667.65 L919.00,668.40 L921.00,669.15 L923.00,669.89 L925.00,670.64 L927.00,671.38 L929.00,672.12 L931.00,672.85 L933.00,673.58 L935.00,674.31 L937.00,675.04 L939.00,675.76 L941.00,676.48" fill="none" stroke="#0000ff" stroke-width="3.02" stroke-linecap="round" stroke-linejoin="round"/>
<path d="M941.00,676.48 L943.00,677.19 L945.00,677.91 L947.00,678.62 L947.90,678.93" fill="none" stroke="#0000ff" stroke-width="3.00" stroke-linecap="round" stroke-linejoin="round"/>
<path d="M150.00,123.30 L193.40,122.26 L195.40,122.46 L197.40,122.66 L199.40,122.88 L201.40,123.10 L203.40,123.34 L205.40,123.57 L207.40,123.82 L209.40,124.08 L211.40,124.34 L213.40,124.61 L215.40,124.89" fill="none" stroke="#000000" stroke-width="3.86" stroke-linecap="round" stroke-linejoin="round"/>
<path d="M215.40,124.89 L217.40,125.17 L219.40,125.47 L221.40,125.77 L223.40,126.08 L225.40,126.40 L227.40,126.72 L229.40,127.05 L231.40,127.39 L233.40,127.74 L235.40,128.09 L237.40,128.46 L239.40,128.83" fill="none" stroke="#000000" stroke-width="3.79" stroke-linecap="round" stroke-linejoin="round"/>
<path d="M239.40,128.83 L241.40,129.20 L243.40,129.59 L245.40,129.98 L247.40,130.38 L249.40,130.79 L251.40,131.20 L253.40,131.62 L255.40,132.05 L257.40,132.49 L259.40,132.93 L261.40,133.39 L263.40,133.84" fill="none" stroke="#000000" stroke-width="3.76" stroke-linecap="round" stroke-linejoin="round"/>
<path d="M263.40,133.84 L265.40,134.31 L267.40,134.78 L269.40,135.26 L271.40,135.75 L273.40,136.25 L275.40,136.75 L277.40,137.26 L279.40,137.78 L281.40,138.30 L283.40,138.83 L285.40,139.37 L287.40,139.92" fill="none" stroke="#000000" stroke-width="3.73" stroke-linecap="round" stroke-linejoin="round"/>
<path d="M287.40,139.92 L289.40,140.47 L291.40,141.03 L293.40,141.60 L295.40,142.17 L297.40,142.75 L299.40,143.34 L301.40,143.93 L303.40,144.53 L305.40,145.14 L307.40,145.76 L309.40,146.38 L311.40,147.01" fill="none" stroke="#000000" stroke-width="3.69" stroke-linecap="round" stroke-linejoin="round"/>
<path d="M311.40,147.01 L313.40,147.65 L315.40,148.29 L317.40,148.94 L319.40,149.60 L321.40,150.26 L323.40,150.94 L325.40,151.61 L327.40,152.30 L329.40,152.99 L331.40,153.69 L333.40,154.39 L335.40,155.10" fill="none" stroke="#000000" stroke-width="3.66" stroke-linecap="round" stroke-linejoin="round"/>
<path d="M335.40,155.10 L337.40,155.82 L339.40,156.55 L341.40,157.28 L343.40,158.02 L345.40,158.76 L347.40,159.51 L349.40,160.27 L351.40,161.04 L353.40,161.81 L355.40,162.59 L357.40,163.37 L359.40,164.16" fill="none" stroke="#000000" stroke-width="3.63" stroke-linecap="round" stroke-linejoin="round"/>
<path d="M359.40,164.16 L361.40,164.96 L363.40,165.77 L365.40,166.58 L367.40,167.39 L369.40,168.22 L371.40,169.05 L373.40,169.88 L375.40,170.73 L377.40,171.57 L379.40,172.43 L381.40,173.29 L383.40,174.16" fill="none" stroke="#000000" stroke-width="3.60" stroke-linecap="round" stroke-linejoin="round"/>
<path d="M383.40,174.16 L385.40,175.03 L387.40,175.92 L389.40,176.80 L391.40,177.70 L393.40,178.60 L395.40,179.50 L397.40,180.41 L399.40,181.33 L401.40,182.26 L403.40,183.19 L405.40,184.12 L407.40,185.07" fill="none" stroke="#000000" stroke-width="3.56" stroke-linecap="round" stroke-linejoin="round"/>
<path d="M407.40,185.07 L409.40,186.02 L411.40,186.97 L413.40,187.93 L415.40,188.90 L417.40,189.87 L419.40,190.85 L421.40,191.84 L423.40,192.83 L425.40,193.83 L427.40,194.83 L429.40,195.84 L431.40,196.85" fill="none" stroke="#000000" stroke-width="3.53" stroke-linecap="round" stroke-linejoin="round"/>
<path d="M431.40,196.85 L433.40,197.87 L435.40,198.90 L437.40,199.93 L439.40,200.97 L441.40,202.02 L443.40,203.07 L445.40,204.12 L447.40,205.19 L449.40,206.25 L451.40,207.33 L453.40,208.41 L455.40,209.49" fill="none" stroke="#000000" stroke-width="3.50" stroke-linecap="round" stroke-linejoin="round"/>
<path d="M455.40,209.49 L457.40,210.58 L459.40,211.68 L461.40,212.78 L463.40,213.89 L465.40,215.00 L467.40,216.12 L469.40,217.24 L471.40,218.37 L473.40,219.51 L475.40,220.65 L477.40,221.80 L479.40,222.95" fill="none" stroke="#000000" stroke-width="3.46" stroke-linecap="round" stroke-linejoin="round"/>
<path d="M479.40,222.95 L481.40,224.11 L483.40,225.27 L485.40,226.44 L487.40,227.62 L489.40,228.80 L491.40,229.98 L493.40,231.17 L495.40,232.37 L497.40,233.57 L499.40,234.78 L501.40,235.99 L503.40,237.21" fill="none" stroke="#000000" stroke-width="3.43" stroke-linecap="round" stroke-linejoin="round"/>
<path d="M503.40,237.21 L505.40,238.43 L507.40,239.66 L509.40,240.89 L511.40,242.13 L513.40,243.37 L515.40,244.62 L517.40,245.88 L519.40,247.14 L521.40,248.40 L523.40,249.67 L525.40,250.95 L527.40,252.23" fill="none" stroke="#000000" stroke-width="3.40" stroke-linecap="round" stroke-linejoin="round"/>
<path d="M527.40,252.23 L529.40,253.51 L531.40,254.80 L533.40,256.10 L535.40,257.40 L537.40,258.70 L539.40,260.01 L541.40,261.33 L543.40,262.65 L545.40,263.97 L547.40,265.30 L549.40,266.64 L551.40,267.98" fill="none" stroke="#000000" stroke-width="3.36" stroke-linecap="round" stroke-linejoin="round"/>
<path d="M551.40,267.98 L553.40,269.33 L555.40,270.68 L557.40,272.03 L559.40,273.39 L561.40,274.76 L563.40,276.13 L565.40,277.50 L567.40,278.88 L569.40,280.26 L571.40,281.65 L573.40,283.05 L575.40,284.44" fill="none" stroke="#000000" stroke-width="3.33" stroke-linecap="round" stroke-linejoin="round"/>
<path d="M575.40,284.44 L577.40,285.85 L579.40,287.25 L581.40,288.67 L583.40,290.08 L585.40,291.51 L587.40,292.93 L589.40,294.36 L591.40,295.80 L593.40,297.24 L595.40,298.68 L597.40,300.13 L599.40,301.58" fill="none" stroke="#000000" stroke-width="3.30" stroke-linecap="round" stroke-linejoin="round"/>
<path d="M599.40,301.58 L601.40,303.04 L603.40,304.50 L605.40,305.97 L607.40,307.44 L609.40,308.92 L611.40,310.40 L613.40,311.88 L615.40,313.36 L617.40,314.86 L619.40,316.35 L621.40,317.85 L623.40,319.35" fill="none" stroke="#000000" stroke-width="3.27" stroke-linecap="round" stroke-linejoin="round"/>
<path d="M623.40,319.35 L625.40,320.86 L627.40,322.37 L629.40,323.88 L631.40,325.40 L633.40,326.92 L635.40,328.45 L637.40,329.97 L639.40,331.51 L641.40,333.04 L643.40,334.58 L645.40,336.12 L647.40,337.67" fill="none" stroke="#000000" stroke-width="3.23" stroke-linecap="round" stroke-linejoin="round"/>
<path d="M647.40,337.67 L649.40,339.21 L651.40,340.77 L653.40,342.32 L655.40,343.88 L657.40,345.44 L659.40,347.00 L661.40,348.57 L663.40,350.14 L665.40,351.71 L667.40,353.28 L669.40,354.86 L671.40,356.44" fill="none" stroke="#000000" stroke-width="3.20" stroke-linecap="round" stroke-linejoin="round"/>
<path d="M671.40,356.44 L673.40,358.03 L675.40,359.61 L677.40,361.20 L679.40,362.79 L681.40,364.38 L683.40,365.98 L685.40,367.58 L687.40,369.18 L689.40,370.78 L691.40,372.38 L693.40,373.99 L695.40,375.60" fill="none" stroke="#000000" stroke-width="3.17" stroke-linecap="round" stroke-linejoin="round"/>
<path d="M695.40,375.60 L697.40,377.21 L699.40,378.82 L701.40,380.44 L703.40,382.06 L705.40,383.68 L707.40,385.30 L709.40,386.92 L711.40,388.54 L713.40,390.17 L715.40,391.80 L717.40,393.43 L719.40,395.06" fill="none" stroke="#000000" stroke-width="3.13" stroke-linecap="round" stroke-linejoin="round"/>
<path d="M719.40,395.06 L721.40,396.69 L723.40,398.32 L725.40,399.96 L727.40,401.59 L729.40,403.23 L731.40,404.87 L733.40,406.51 L735.40,408.15 L737.40,409.80 L739.40,411.44 L741.40,413.08 L743.40,414.73" fill="none" stroke="#000000" stroke-width="3.10" stroke-linecap="round" stroke-linejoin="round"/>
<path d="M743.40,414.73 L745.40,416.38 L747.40,418.02 L749.40,419.67 L751.40,421.32 L753.40,422.97 L755.40,424.62 L757.40,426.27 L759.40,427.92 L761.40,429.57 L763.40,431.23 L765.40,432.88 L767.40,434.53" fill="none" stroke="#000000" stroke-width="3.07" stroke-linecap="round" stroke-linejoin="round"/>
<path d="M767.40,434.53 L769.40,436.19 L771.40,437.84 L773.40,439.50 L775.40,441.15 L777.40,442.80 L779.40,444.46 L781.40,446.11 L783.40,447.77 L785.40,449.42 L787.40,451.07 L789.40,452.73 L791.40,454.38" fill="none" stroke="#000000" stroke-width="3.03" stroke-linecap="round" stroke-linejoin="round"/>
<path d="M791.40,454.38 L793.40,456.03 L795.40,457.68 L797.40,459.33 L799.40,460.98 L801.40,462.63 L803.40,464.28 L805.40,465.93 L807.40,467.57 L809.40,469.22 L811.40,470.86 L813.40,472.50 L815.40,474.15" fill="none" stroke="#000000" stroke-width="3.00" stroke-linecap="round" stroke-linejoin="round"/>
<path d="M815.40,474.15 L817.40,475.79 L819.40,477.42 L821.40,479.06 L823.40,480.70 L825.40,482.33 L827.40,483.96 L829.40,485.59 L831.40,487.22 L833.40,488.85 L835.40,490.47 L837.40,492.09 L839.40,493.71" fill="none" stroke="#000000" stroke-width="2.97" stroke-linecap="round" stroke-linejoin="round"/>
<path d="M839.40,493.71 L841.40,495.33 L843.40,496.95 L845.40,498.56 L847.40,500.17 L849.40,501.78 L851.40,503.39 L853.40,504.99 L855.40,506.59 L857.40,508.19 L859.40,509.78 L861.40,511.37 L863.40,512.96" fill="none" stroke="#000000" stroke-width="2.94" stroke-linecap="round" stroke-linejoin="round"/>
<path d="M863.40,512.96 L865.40,514.55 L867.40,516.13 L869.40,517.71 L871.40,519.29 L873.40,520.86 L875.40,522.43 L877.40,524.00 L879.40,525.56 L881.40,527.12 L883.40,528.67 L885.40,530.22 L887.40,531.77" fill="none" stroke="#000000" stroke-width="2.90" stroke-linecap="round" stroke-linejoin="round"/>
<path d="M887.40,531.77 L889.40,533.32 L891.40,534.86 L893.40,536.39 L895.40,537.92 L897.40,539.45 L899.40,540.97 L901.40,542.49 L903.40,544.01 L905.40,545.52 L907.40,547.02 L909.40,548.52 L911.40,550.02" fill="none" stroke="#000000" stroke-width="2.87" stroke-linecap="round" stroke-linejoin="round"/>
<path d="M911.40,550.02 L913.40,551.51 L915.40,553.00 L917.40,554.48 L919.40,555.96 L921.40,557.43 L923.40,558.89 L925.40,560.36 L927.40,561.81 L929.40,563.26 L931.40,564.71 L933.40,566.15 L935.40,567.58" fill="none" stroke="#000000" stroke-width="2.84" stroke-linecap="round" stroke-linejoin="round"/>
<path d="M935.40,567.58 L937.40,569.01 L939.40,570.44 L941.40,571.85 L943.40,573.26 L945.40,574.67 L947.40,576.07 L949.40,577.46 L950.20,578.02" fill="none" stroke="#000000" stroke-width="2.81" stroke-linecap="round" stroke-linejoin="round"/>
<path d="M150.00,121.90 L193.40,124.50 L195.40,125.16 L197.40,125.82 L199.40,126.48 L201.40,127.15 L203.40,127.82 L205.40,128.50 L207.40,129.18 L209.40,129.86 L211.40,130.55 L213.40,131.25 L215.40,131.95" fill="none" stroke="#888888" stroke-width="3.18" stroke-linecap="round" stroke-linejoin="round"/>
<path d="M215.40,131.95 L217.40,132.65 L219.40,133.36 L221.40,134.07 L223.40,134.79 L225.40,135.51 L227.40,136.23 L229.40,136.96 L231.40,137.70 L233.40,138.44 L235.40,139.19 L237.40,139.94 L239.40,140.69" fill="none" stroke="#888888" stroke-width="3.14" stroke-linecap="round" stroke-linejoin="round"/>
<path d="M239.40,140.69 L241.40,141.45 L243.40,142.21 L245.40,142.98 L247.40,143.76 L249.40,144.54 L251.40,145.32 L253.40,146.11 L255.40,146.90 L257.40,147.70 L259.40,148.50 L261.40,149.31 L263.40,150.13" fill="none" stroke="#888888" stroke-width="3.12" stroke-linecap="round" stroke-linejoin="round"/>
<path d="M263.40,150.13 L265.40,150.95 L267.40,151.77 L269.40,152.60 L271.40,153.43 L273.40,154.27 L275.40,155.12 L277.40,155.97 L279.40,156.82 L281.40,157.68 L283.40,158.55 L285.40,159.42 L287.40,160.29" fill="none" stroke="#888888" stroke-width="3.11" stroke-linecap="round" stroke-linejoin="round"/>
<path d="M287.40,160.29 L289.40,161.18 L291.40,162.06 L293.40,162.95 L295.40,163.85 L297.40,164.75 L299.40,165.66 L301.40,166.58 L303.40,167.50 L305.40,168.42 L307.40,169.35 L309.40,170.29 L311.40,171.23" fill="none" stroke="#888888" stroke-width="3.09" stroke-linecap="round" stroke-linejoin="round"/>
<path d="M311.40,171.23 L313.40,172.18 L315.40,173.13 L317.40,174.09 L319.40,175.05 L321.40,176.02 L323.40,177.00 L325.40,177.98 L327.40,178.96 L329.40,179.96 L331.40,180.95 L333.40,181.96 L335.40,182.97" fill="none" stroke="#888888" stroke-width="3.07" stroke-linecap="round" stroke-linejoin="round"/>
<path d="M335.40,182.97 L337.40,183.99 L339.40,185.01 L341.40,186.03 L343.40,187.07 L345.40,188.11 L347.40,189.15 L349.40,190.20 L351.40,191.26 L353.40,192.33 L355.40,193.40 L357.40,194.47 L359.40,195.55" fill="none" stroke="#888888" stroke-width="3.05" stroke-linecap="round" stroke-linejoin="round"/>
<path d="M359.40,195.55 L361.40,196.64 L363.40,197.74 L365.40,198.84 L367.40,199.94 L369.40,201.05 L371.40,202.17 L373.40,203.30 L375.40,204.43 L377.40,205.56 L379.40,206.71 L381.40,207.85 L383.40,209.01" fill="none" stroke="#888888" stroke-width="3.03" stroke-linecap="round" stroke-linejoin="round"/>
<path d="M383.40,209.01 L385.40,210.17 L387.40,211.34 L389.40,212.51 L391.40,213.69 L393.40,214.87 L395.40,216.06 L397.40,217.25 L399.40,218.46 L401.40,219.66 L403.40,220.88 L405.40,222.09 L407.40,223.32" fill="none" stroke="#888888" stroke-width="3.02" stroke-linecap="round" stroke-linejoin="round"/>
<path d="M407.40,223.32 L409.40,224.55 L411.40,225.78 L413.40,227.03 L415.40,228.27 L417.40,229.53 L419.40,230.78 L421.40,232.05 L423.40,233.32 L425.40,234.59 L427.40,235.87 L429.40,237.16 L431.40,238.45" fill="none" stroke="#888888" stroke-width="3.00" stroke-linecap="round" stroke-linejoin="round"/>
<path d="M431.40,238.45 L433.40,239.75 L435.40,241.05 L437.40,242.36 L439.40,243.67 L441.40,244.99 L443.40,246.31 L445.40,247.64 L447.40,248.98 L449.40,250.32 L451.40,251.66 L453.40,253.01 L455.40,254.37" fill="none" stroke="#888888" stroke-width="2.98" stroke-linecap="round" stroke-linejoin="round"/>
<path d="M455.40,254.37 L457.40,255.73 L459.40,257.10 L461.40,258.47 L463.40,259.85 L465.40,261.23 L467.40,262.62 L469.40,264.01 L471.40,265.41 L473.40,266.81 L475.40,268.22 L477.40,269.63 L479.40,271.05" fill="none" stroke="#888888" stroke-width="2.96" stroke-linecap="round" stroke-linejoin="round"/>
<path d="M479.40,271.05 L481.40,272.47 L483.40,273.90 L485.40,275.33 L487.40,276.77 L489.40,278.21 L491.40,279.66 L493.40,281.11 L495.40,282.57 L497.40,284.03 L499.40,285.50 L501.40,286.97 L503.40,288.45" fill="none" stroke="#888888" stroke-width="2.94" stroke-linecap="round" stroke-linejoin="round"/>
<path d="M503.40,288.45 L505.40,289.93 L507.40,291.42 L509.40,292.91 L511.40,294.41 L513.40,295.91 L515.40,297.41 L517.40,298.92 L519.40,300.44 L521.40,301.96 L523.40,303.48 L525.40,305.01 L527.40,306.54" fill="none" stroke="#888888" stroke-width="2.93" stroke-linecap="round" stroke-linejoin="round"/>
<path d="M527.40,306.54 L529.40,308.08 L531.40,309.62 L533.40,311.16 L535.40,312.71 L537.40,314.26 L539.40,315.81 L541.40,317.37 L543.40,318.93 L545.40,320.50 L547.40,322.07 L549.40,323.64 L551.40,325.22" fill="none" stroke="#888888" stroke-width="2.91" stroke-linecap="round" stroke-linejoin="round"/>
<path d="M551.40,325.22 L553.40,326.79 L555.40,328.38 L557.40,329.96 L559.40,331.55 L561.40,333.14 L563.40,334.73 L565.40,336.33 L567.40,337.93 L569.40,339.53 L571.40,341.13 L573.40,342.74 L575.40,344.35" fill="none" stroke="#888888" stroke-width="2.89" stroke-linecap="round" stroke-linejoin="round"/>
<path d="M575.40,344.35 L577.40,345.96 L579.40,347.57 L581.40,349.19 L583.40,350.80 L585.40,352.42 L587.40,354.04 L589.40,355.66 L591.40,357.29 L593.40,358.91 L595.40,360.54 L597.40,362.17 L599.40,363.80" fill="none" stroke="#888888" stroke-width="2.87" stroke-linecap="round" stroke-linejoin="round"/>
<path d="M599.40,363.80 L601.40,365.43 L603.40,367.07 L605.40,368.70 L607.40,370.34 L609.40,371.97 L611.40,373.61 L613.40,375.25 L615.40,376.89 L617.40,378.53 L619.40,380.17 L621.40,381.81 L623.40,383.45" fill="none" stroke="#888888" stroke-width="2.85" stroke-linecap="round" stroke-linejoin="round"/>
<path d="M623.40,383.45 L625.40,385.10 L627.40,386.74 L629.40,388.38 L631.40,390.03 L633.40,391.67 L635.40,393.32 L637.40,394.97 L639.40,396.61 L641.40,398.26 L643.40,399.90 L645.40,401.55 L647.40,403.20" fill="none" stroke="#888888" stroke-width="2.84" stroke-linecap="round" stroke-linejoin="round"/>
<path d="M647.40,403.20 L649.40,404.84 L651.40,406.49 L653.40,408.14 L655.40,409.78 L657.40,411.43 L659.40,413.07 L661.40,414.71 L663.40,416.36 L665.40,418.00 L667.40,419.64 L669.40,421.29 L671.40,422.93" fill="none" stroke="#888888" stroke-width="2.82" stroke-linecap="round" stroke-linejoin="round"/>
<path d="M671.40,422.93 L673.40,424.57 L675.40,426.21 L677.40,427.85 L679.40,429.48 L681.40,431.12 L683.40,432.75 L685.40,434.39 L687.40,436.02 L689.40,437.65 L691.40,439.28 L693.40,440.91 L695.40,442.54" fill="none" stroke="#888888" stroke-width="2.80" stroke-linecap="round" stroke-linejoin="round"/>
<path d="M695.40,442.54 L697.40,444.16 L699.40,445.79 L701.40,447.41 L703.40,449.03 L705.40,450.65 L707.40,452.27 L709.40,453.88 L711.40,455.50 L713.40,457.11 L715.40,458.72 L717.40,460.32 L719.40,461.93" fill="none" stroke="#888888" stroke-width="2.78" stroke-linecap="round" stroke-linejoin="round"/>
<path d="M719.40,461.93 L721.40,463.53 L723.40,465.13 L725.40,466.73 L727.40,468.32 L729.40,469.92 L731.40,471.51 L733.40,473.09 L735.40,474.68 L737.40,476.26 L739.40,477.84 L741.40,479.41 L743.40,480.99" fill="none" stroke="#888888" stroke-width="2.76" stroke-linecap="round" stroke-linejoin="round"/>
<path d="M743.40,480.99 L745.40,482.56 L747.40,484.12 L749.40,485.69 L751.40,487.25 L753.40,488.81 L755.40,490.36 L757.40,491.91 L759.40,493.46 L761.40,495.00 L763.40,496.54 L765.40,498.08 L767.40,499.61" fill="none" stroke="#888888" stroke-width="2.75" stroke-linecap="round" stroke-linejoin="round"/>
<path d="M767.40,499.61 L769.40,501.14 L771.40,502.67 L773.40,504.19 L775.40,505.71 L777.40,507.22 L779.40,508.73 L781.40,510.24 L783.40,511.74 L785.40,513.24 L787.40,514.73 L789.40,516.22 L791.40,517.70" fill="none" stroke="#888888" stroke-width="2.73" stroke-linecap="round" stroke-linejoin="round"/>
<path d="M791.40,517.70 L793.40,519.18 L795.40,520.66 L797.40,522.13 L799.40,523.59 L801.40,525.06 L803.40,526.51 L805.40,527.96 L807.40,529.41 L809.40,530.85 L811.40,532.29 L813.40,533.72 L815.40,535.15" fill="none" stroke="#888888" stroke-width="2.71" stroke-linecap="round" stroke-linejoin="round"/>
<path d="M815.40,535.15 L817.40,536.57 L819.40,537.98 L821.40,539.40 L823.40,540.80 L825.40,542.20 L827.40,543.60 L829.40,544.98 L831.40,546.37 L833.40,547.75 L835.40,549.12 L837.40,550.48 L839.40,551.84" fill="none" stroke="#888888" stroke-width="2.69" stroke-linecap="round" stroke-linejoin="round"/>
<path d="M839.40,551.84 L841.40,553.20 L843.40,554.55 L845.40,555.89 L847.40,557.23 L849.40,558.56 L851.40,559.88 L853.40,561.20 L855.40,562.51 L857.40,563.81 L859.40,565.11 L861.40,566.40 L863.40,567.69" fill="none" stroke="#888888" stroke-width="2.67" stroke-linecap="round" stroke-linejoin="round"/>
<path d="M863.40,567.69 L865.40,568.97 L867.40,570.24 L869.40,571.50 L871.40,572.76 L873.40,574.01 L875.40,575.26 L877.40,576.49 L879.40,577.72 L881.40,578.95 L883.40,580.16 L885.40,581.37 L887.40,582.57" fill="none" stroke="#888888" stroke-width="2.66" stroke-linecap="round" stroke-linejoin="round"/>
<path d="M887.40,582.57 L889.40,583.77 L891.40,584.95 L893.40,586.13 L895.40,587.30 L897.40,588.47 L899.40,589.62 L901.40,590.77 L903.40,591.91 L905.40,593.05 L907.40,594.17 L909.40,595.29 L911.40,596.40" fill="none" stroke="#888888" stroke-width="2.64" stroke-linecap="round" stroke-linejoin="round"/>
<path d="M911.40,596.40 L913.40,597.50 L915.40,598.59 L917.40,599.67 L919.40,600.75 L921.40,601.82 L923.40,602.88 L925.40,603.93 L927.40,604.97 L929.40,606.00 L931.40,607.03 L933.40,608.04 L935.40,609.05" fill="none" stroke="#888888" stroke-width="2.62" stroke-linecap="round" stroke-linejoin="round"/>
<path d="M935.40,609.05 L937.40,610.05 L939.40,611.04 L941.40,612.02 L943.40,612.99 L945.40,613.95 L947.40,614.91 L949.40,615.85 L950.70,616.46" fill="none" stroke="#888888" stroke-width="2.61" stroke-linecap="round" stroke-linejoin="round"/>
<path d="M950.20,576.75 L952.20,577.99 L954.20,579.21 L956.20,580.42 L958.20,581.62 L960.20,582.81 L962.20,583.99 L964.20,585.16 L966.20,586.33 L968.20,587.48 L970.20,588.63 L972.20,589.77 L974.20,590.91 L976.20,592.04 L978.20,593.17 L980.20,594.29 L982.20,595.41 L984.20,596.53 L986.20,597.65 L988.20,598.76 L990.20,599.87 L992.20,600.99 L994.20,602.10 L996.20,603.22 L998.20,604.34 L1000.20,605.46 L1002.20,606.58 L1004.20,607.71 L1006.20,608.85 L1008.20,609.98 L1010.20,611.13 L1012.20,612.27 L1014.20,613.43 L1016.20,614.58 L1018.20,615.74 L1020.20,616.89 L1022.20,618.05 L1024.20,619.21 L1026.20,620.37 L1028.20,621.52 L1030.20,622.67 L1032.20,623.82 L1034.20,624.96 L1036.20,626.10 L1038.20,627.23 L1040.20,628.36 L1042.20,629.47 L1044.20,630.58 L1046.20,631.68 L1048.20,632.77 L1050.20,633.85 L1052.20,634.92 L1054.20,635.99 L1056.20,637.06 L1058.20,638.11 L1060.20,639.17 L1062.20,640.22 L1064.20,641.27 L1066.20,642.31 L1068.20,643.35 L1070.20,644.39 L1072.20,645.42 L1074.20,646.45 L1076.20,647.48 L1078.20,648.49 L1080.20,649.51 L1082.20,650.52 L1084.20,651.52 L1086.20,652.52 L1088.20,653.51 L1090.20,654.50 L1092.20,655.48 L1094.20,656.45 L1096.20,657.42 L1098.20,658.38 L1100.20,659.33 L1102.20,660.28 L1104.20,661.23 L1106.20,662.18 L1108.20,663.13 L1110.20,664.08 L1112.20,665.05 L1114.20,666.02 L1116.20,667.01 L1118.20,668.01 L1120.20,669.02 L1122.20,670.05 L1124.20,671.07 L1126.20,672.10 L1128.20,673.11 L1130.20,674.09 L1132.20,675.05 L1134.20,675.96 L1136.20,676.83 L1138.20,677.65 L1140.20,678.43 L1142.20,679.16 L1144.20,679.87 L1146.20,680.55 L1148.20,681.22 L1150.20,681.86 L1152.20,682.51 L1154.20,683.14 L1156.20,683.78 L1158.20,684.43 L1160.20,685.10 L1162.20,685.80 L1164.20,686.53 L1166.20,687.30 L1168.20,688.13 L1170.20,689.03 L1172.20,690.00 L1174.00,690.95" fill="none" stroke="#000" stroke-width="5.3" stroke-dasharray="23.5 18.5"/>
<path d="M948.50,678.12 L950.50,678.70 L952.50,679.27 L954.50,679.85 L956.50,680.43 L958.50,681.00 L960.50,681.58 L962.50,682.15 L964.50,682.73 L966.50,683.30 L968.50,683.88 L970.50,684.45 L972.50,685.02 L974.50,685.59 L976.50,686.16 L978.50,686.73 L980.50,687.30 L982.50,687.87 L984.50,688.44 L986.50,689.00 L988.50,689.57 L990.50,690.13 L992.50,690.69 L994.50,691.26 L996.50,691.82 L998.50,692.38 L1000.50,692.93 L1002.50,693.49 L1004.50,694.05 L1006.50,694.60 L1008.50,695.15 L1010.50,695.70 L1012.50,696.25 L1014.50,696.80 L1016.50,697.35 L1018.50,697.89 L1020.50,698.43 L1022.50,698.98 L1024.50,699.51 L1026.50,700.05 L1028.50,700.59 L1030.50,701.12 L1032.50,701.65 L1034.50,702.18 L1036.50,702.71 L1038.50,703.24 L1040.50,703.76 L1042.50,704.28 L1044.50,704.80 L1046.50,705.32 L1048.50,705.84 L1050.50,706.35 L1052.50,706.86 L1054.50,707.37 L1056.50,707.87 L1058.50,708.38 L1060.50,708.88 L1062.50,709.38 L1064.50,709.87 L1066.50,710.37 L1068.50,710.86 L1070.50,711.34 L1072.50,711.83 L1074.50,712.31 L1076.50,712.79 L1078.50,713.27 L1080.50,713.74 L1082.50,714.21 L1084.50,714.68 L1086.50,715.14 L1088.50,715.61 L1090.50,716.06 L1092.50,716.52 L1094.50,716.97 L1096.50,717.42 L1098.50,717.87 L1100.50,718.31 L1102.50,718.75 L1104.50,719.18 L1106.50,719.62 L1108.50,720.05 L1110.50,720.47 L1112.50,720.89 L1114.50,721.31 L1116.50,721.72 L1118.50,722.14 L1120.50,722.54 L1122.50,722.95 L1124.50,723.35 L1126.50,723.74 L1128.50,724.13 L1130.50,724.52 L1132.50,724.91 L1134.50,725.29 L1136.50,725.66 L1138.50,726.03 L1140.50,726.40 L1142.50,726.76 L1144.50,727.12 L1146.50,727.48 L1148.50,727.83 L1150.50,728.18 L1152.50,728.52 L1154.50,728.86 L1156.50,729.19 L1158.50,729.52 L1160.50,729.84 L1162.50,730.16 L1164.50,730.48 L1166.50,730.79 L1168.50,731.09 L1170.50,731.39 L1172.50,731.69 L1173.90,731.90" fill="none" stroke="#0000ff" stroke-width="5.3" stroke-dasharray="23.5 18.5"/>
<line x1="1173.3" y1="694.5" x2="1175.6" y2="689.2" stroke="#444" stroke-width="1"/>
<path d="M1457.44,192.69 L1459.55,192.52 L1461.60,192.45 L1463.59,192.45 L1465.55,192.51 L1467.48,192.60 L1469.41,192.70 L1471.35,192.78 L1473.31,192.82 L1475.32,192.81 L1477.38,192.71 L1479.51,192.52 L1481.66,192.29 L1483.77,192.13 L1485.76,192.14 L1487.58,192.41 L1489.14,193.05 L1490.39,194.14 L1491.33,195.65 L1492.00,197.43 L1492.45,199.34 L1492.74,201.31 L1492.93,203.32 L1493.09,205.34 L1493.25,207.35 L1493.41,209.36 L1493.57,211.37 L1493.74,213.38 L1493.90,215.38 L1494.07,217.38 L1494.24,219.38 L1494.40,221.38 L1494.57,223.38 L1494.74,225.37 L1494.91,227.37 L1495.08,229.36 L1495.25,231.35 L1495.42,233.34 L1495.59,235.33 L1495.75,237.32 L1495.92,239.31 L1496.08,241.30 L1496.24,243.28 L1496.39,245.27 L1496.55,247.26 L1496.70,249.24 L1496.85,251.23 L1497.00,253.22 L1497.14,255.21 L1497.28,257.20 L1497.41,259.19 L1497.54,261.18 L1497.67,263.17 L1497.80,265.16 L1497.92,267.15 L1498.04,269.14 L1498.16,271.13 L1498.28,273.12 L1498.39,275.11 L1498.50,277.10 L1498.60,279.10 L1498.71,281.09 L1498.81,283.08 L1498.91,285.07 L1499.00,287.07 L1499.10,289.06 L1499.19,291.06 L1499.28,293.05 L1499.37,295.04 L1499.45,297.04 L1499.54,299.03 L1499.62,301.03 L1499.70,303.02 L1499.78,305.02 L1499.85,307.01 L1499.93,309.01 L1500.00,311.00 L1500.07,313.00 L1500.14,314.99 L1500.21,316.99 L1500.27,318.99 L1500.34,320.98 L1500.40,322.98 L1500.46,324.97 L1500.52,326.97 L1500.58,328.97 L1500.64,330.96 L1500.70,332.96 L1500.75,334.95 L1500.81,336.95 L1500.86,338.95 L1500.92,340.94 L1500.97,342.94 L1501.02,344.93 L1501.07,346.93 L1501.12,348.93 L1501.17,350.92 L1501.22,352.92 L1501.27,354.91 L1501.31,356.91 L1501.36,358.91 L1501.40,360.90 L1501.45,362.90 L1501.49,364.89 L1501.53,366.89 L1501.58,368.88 L1501.62,370.88 L1501.66,372.88 L1501.70,374.87 L1501.74,376.87 L1501.78,378.86 L1501.82,380.86 L1501.86,382.86 L1501.89,384.85 L1501.93,386.85 L1501.97,388.84 L1502.01,390.84 L1502.04,392.83 L1502.08,394.83 L1502.11,396.83 L1502.15,398.82 L1502.18,400.82 L1502.22,402.81 L1502.25,404.81 L1502.29,406.80 L1502.32,408.80 L1502.35,410.80 L1502.39,412.79 L1502.42,414.79 L1502.45,416.78 L1502.49,418.78 L1502.52,420.77 L1502.55,422.77 L1502.59,424.77 L1502.62,426.76 L1502.65,428.76 L1502.68,430.75 L1502.72,432.75 L1502.75,434.74 L1502.78,436.74 L1502.82,438.74 L1502.85,440.73 L1502.88,442.73 L1502.92,444.72 L1502.95,446.72 L1502.98,448.71 L1503.02,450.71 L1503.05,452.71 L1503.08,454.70 L1503.12,456.70 L1503.15,458.69 L1503.19,460.69 L1503.22,462.68 L1503.26,464.68 L1503.30,466.68 L1503.33,468.67 L1503.37,470.67 L1503.41,472.66 L1503.44,474.66 L1503.48,476.65 L1503.52,478.65 L1503.56,480.65 L1503.60,482.64 L1503.64,484.64 L1503.68,486.63 L1503.72,488.63 L1503.77,490.62 L1503.81,492.62 L1503.85,494.62 L1503.90,496.61 L1503.94,498.61 L1503.99,500.60 L1504.03,502.60 L1504.08,504.59 L1504.12,506.59 L1504.17,508.59 L1504.22,510.58 L1504.27,512.58 L1504.32,514.57 L1504.36,516.57 L1504.41,518.56 L1504.46,520.56 L1504.51,522.56 L1504.56,524.55 L1504.61,526.55 L1504.66,528.54 L1504.71,530.54 L1504.76,532.54 L1504.81,534.53 L1504.86,536.53 L1504.91,538.52 L1504.96,540.52 L1505.01,542.51 L1505.06,544.51 L1505.10,546.51 L1505.15,548.50 L1505.20,550.50 L1505.25,552.49 L1505.30,554.49 L1505.35,556.49 L1505.39,558.48 L1505.44,560.48 L1505.49,562.47 L1505.53,564.47 L1505.58,566.46 L1505.62,568.46 L1505.67,570.46 L1505.71,572.45 L1505.75,574.45 L1505.79,576.44 L1505.84,578.44 L1505.88,580.44 L1505.92,582.43 L1505.96,584.43 L1506.01,586.42 L1506.05,588.42 L1506.10,590.41 L1506.16,592.41 L1506.21,594.40 L1506.28,596.40 L1506.35,598.39 L1506.42,600.39 L1506.50,602.38 L1506.59,604.37 L1506.69,606.36 L1506.80,608.35 L1506.91,610.34 L1507.04,612.33 L1507.18,614.32 L1507.32,616.31 L1507.48,618.30 L1507.66,620.28 L1507.84,622.27 L1508.04,624.25 L1508.25,626.24 L1508.46,628.22 L1508.68,630.21 L1508.91,632.19 L1509.14,634.17 L1509.38,636.15 L1509.62,638.14 L1509.86,640.12 L1510.10,642.10 L1510.33,644.08 L1510.57,646.07 L1510.80,648.05 L1511.03,650.03 L1511.25,652.02 L1511.46,654.00 L1511.66,655.99 L1511.86,657.97 L1512.04,659.96 L1512.21,661.95 L1512.37,663.94 L1512.51,665.93 L1512.66,667.92 L1512.79,669.91 L1512.93,671.90 L1513.06,673.89 L1513.20,675.88 L1513.35,677.87 L1513.50,679.86 L1513.67,681.84 L1513.85,683.83 L1514.04,685.81 L1514.26,687.80 L1514.50,689.77 L1514.76,691.75 L1515.05,693.73 L1515.37,695.70 L1515.72,697.67 L1516.11,699.63 L1516.53,701.59 L1517.00,703.55 L1517.51,705.50 L1518.08,707.44 L1518.77,709.31 L1519.68,711.06 L1520.86,712.63 L1522.37,713.96 L1524.11,714.87 L1525.90,715.16 L1527.60,714.70 L1529.16,713.61 L1530.56,712.11 L1531.79,710.40 L1532.87,708.63 L1533.87,706.83 L1534.83,705.03 L1535.77,703.23 L1536.68,701.43 L1537.57,699.63 L1538.44,697.82 L1539.29,696.02 L1540.12,694.21 L1540.94,692.40 L1541.74,690.58 L1542.53,688.76 L1543.30,686.93 L1544.07,685.10 L1544.82,683.26 L1545.00,682.82 L1546.50,678.99 L1548.00,674.99 L1549.50,670.87 L1551.00,666.68 L1552.50,662.46 L1554.00,658.24 L1555.50,654.05 L1557.00,649.93 L1558.50,645.89 L1560.00,641.95 L1561.50,638.11 L1563.00,634.37 L1564.50,630.72 L1565.00,629.53 L1568.00,622.41 L1571.00,615.51 L1574.00,608.83 L1577.00,602.35 L1580.00,596.08 L1583.00,590.02 L1586.00,584.17 L1589.00,578.53 L1592.00,573.09 L1595.00,567.83 L1598.00,562.76 L1601.00,557.86 L1604.00,553.13 L1607.00,548.56 L1610.00,544.14 L1613.00,539.86 L1616.00,535.72 L1619.00,531.70 L1622.00,527.80 L1625.00,524.01 L1628.00,520.33 L1631.00,516.75 L1634.00,513.27 L1637.00,509.88 L1640.00,506.58 L1643.00,503.36 L1646.00,500.21 L1649.00,497.15 L1652.00,494.15 L1655.00,491.21 L1658.00,488.34 L1661.00,485.52 L1664.00,482.75 L1667.00,480.02 L1670.00,477.34 L1673.00,474.70 L1676.00,472.09 L1679.00,469.51 L1682.00,466.95 L1685.00,464.41 L1688.00,461.88 L1691.00,459.37 L1694.00,456.86 L1697.00,454.37 L1700.00,451.89 L1703.00,449.43 L1706.00,446.97 L1709.00,444.54 L1712.00,442.12 L1715.00,439.71 L1718.00,437.32 L1721.00,434.96 L1724.00,432.61 L1727.00,430.28 L1730.00,427.97 L1733.00,425.68 L1736.00,423.42 L1739.00,421.17 L1742.00,418.96 L1745.00,416.76 L1748.00,414.59 L1751.00,412.45 L1754.00,410.32 L1757.00,408.23 L1760.00,406.15 L1763.00,404.10 L1766.00,402.06 L1769.00,400.06 L1772.00,398.07 L1775.00,396.10 L1778.00,394.16 L1781.00,392.24 L1784.00,390.34 L1787.00,388.46 L1790.00,386.60 L1793.00,384.77 L1796.00,382.95 L1799.00,381.15 L1802.00,379.37 L1805.00,377.62 L1808.00,375.88 L1811.00,374.16 L1814.00,372.46 L1817.00,370.78 L1820.00,369.12 L1823.00,367.48 L1826.00,365.85 L1829.00,364.24 L1832.00,362.66 L1835.00,361.08 L1838.00,359.53 L1841.00,357.99 L1844.00,356.47 L1847.00,354.97 L1850.00,353.48 L1853.00,352.01 L1856.00,350.56 L1859.00,349.12 L1862.00,347.69 L1865.00,346.28 L1868.00,344.89 L1871.00,343.51 L1874.00,342.15 L1877.00,340.80 L1880.00,339.47 L1883.00,338.15 L1886.00,336.84 L1889.00,335.55 L1892.00,334.27 L1895.00,333.00 L1898.00,331.75 L1901.00,330.51 L1904.00,329.29 L1907.00,328.08 L1910.00,326.88 L1913.00,325.69 L1916.00,324.52 L1919.00,323.36 L1922.00,322.21 L1925.00,321.08 L1928.00,319.96 L1931.00,318.85 L1934.00,317.75 L1937.00,316.66 L1940.00,315.59 L1943.00,314.53 L1946.00,313.48 L1949.00,312.44 L1952.00,311.42 L1955.00,310.40 L1958.00,309.40 L1961.00,308.41 L1964.00,307.43 L1967.00,306.46 L1970.00,305.50 L1973.00,304.56 L1976.00,303.62 L1979.00,302.69 L1982.00,301.78 L1985.00,300.88 L1988.00,299.98 L1991.00,299.10 L1994.00,298.23 L1997.00,297.36 L2000.00,296.51 L2003.00,295.67 L2006.00,294.84 L2009.00,294.01 L2012.00,293.20 L2015.00,292.40 L2018.00,291.60 L2021.00,290.82 L2024.00,290.04 L2027.00,289.28 L2030.00,288.52 L2033.00,287.77 L2036.00,287.03 L2039.00,286.30 L2042.00,285.58 L2045.00,284.87 L2048.00,284.16 L2051.00,283.46 L2054.00,282.78 L2057.00,282.10 L2060.00,281.42 L2063.00,280.76 L2066.00,280.10 L2069.00,279.45 L2072.00,278.81 L2075.00,278.18 L2078.00,277.55 L2081.00,276.94 L2084.00,276.32 L2087.00,275.72 L2090.00,275.12 L2093.00,274.53 L2096.00,273.95 L2099.00,273.37 L2102.00,272.80 L2105.00,272.24 L2108.00,271.68 L2111.00,271.13 L2114.00,270.59 L2117.00,270.05 L2120.00,269.52 L2123.00,268.99 L2126.00,268.47 L2129.00,267.96 L2132.00,267.45 L2135.00,266.94 L2138.00,266.45 L2141.00,265.95 L2144.00,265.47 L2147.00,264.98 L2150.00,264.51 L2153.00,264.03 L2156.00,263.57 L2159.00,263.10 L2162.00,262.64 L2165.00,262.19 L2168.00,261.74 L2170.00,261.44" fill="none" stroke="#0b6a0b" stroke-width="3.8" stroke-linejoin="round"/>
<path d="M2170.00,261.10 L2178.20,259.40 L2186.40,257.80 L2194.60,256.60 L2198.70,257.40 L2204.40,255.30 L2208.50,256.60 L2214.30,254.10 L2219.20,256.10 L2224.90,252.50 L2229.80,255.70 L2234.80,250.80 L2239.30,257.80 L2244.60,248.40 L2249.10,260.20 L2253.60,245.50 L2258.10,256.10 L2263.00,233.60 L2268.70,267.30 L2273.00,215.00 L2277.00,275.00 L2282.00,190.00 L2287.00,300.00 L2292.00,170.00 L2297.00,330.00 L2301.50,163.80" fill="none" stroke="#0b6a0b" stroke-width="3.7" stroke-linejoin="bevel"/>
<path d="M1457.50,192.00 L1459.43,192.06 L1461.42,192.05 L1463.46,192.00 L1465.51,191.94 L1467.55,191.90 L1469.55,191.89 L1471.50,191.95 L1473.40,192.05 L1475.28,192.15 L1477.18,192.23 L1479.13,192.25 L1481.15,192.17 L1483.29,191.96 L1485.49,191.67 L1487.68,191.41 L1489.77,191.30 L1491.67,191.47 L1493.29,192.03 L1494.59,193.02 L1495.63,194.36 L1496.46,195.99 L1497.14,197.81 L1497.71,199.74 L1498.23,201.71 L1498.72,203.67 L1499.19,205.64 L1499.63,207.60 L1500.05,209.57 L1500.44,211.53 L1500.82,213.49 L1501.17,215.46 L1501.50,217.42 L1501.81,219.39 L1502.11,221.35 L1502.39,223.32 L1502.65,225.28 L1502.90,227.25 L1503.14,229.22 L1503.36,231.19 L1503.57,233.16 L1503.77,235.13 L1503.96,237.10 L1504.15,239.08 L1504.32,241.05 L1504.49,243.03 L1504.66,245.01 L1504.82,246.99 L1504.98,248.98 L1505.13,250.96 L1505.29,252.95 L1505.44,254.94 L1505.60,256.94 L1505.76,258.93 L1505.93,260.92 L1506.10,262.91 L1506.28,264.91 L1506.47,266.90 L1506.68,268.88 L1506.89,270.87 L1507.12,272.85 L1507.37,274.83 L1507.63,276.80 L1507.91,278.77 L1508.22,280.74 L1508.54,282.69 L1508.89,284.65 L1509.26,286.59 L1509.66,288.53 L1510.09,290.45 L1510.55,292.37 L1511.04,294.28 L1511.56,296.18 L1512.11,298.07 L1512.70,299.95 L1513.33,301.81 L1514.00,303.67 L1514.71,305.51 L1515.47,307.33 L1516.28,309.14 L1517.15,310.93 L1518.10,312.70 L1519.12,314.45 L1520.22,316.16 L1521.42,317.85 L1522.70,319.47 L1524.06,321.00 L1525.50,322.42 L1527.02,323.70 L1528.61,324.81 L1530.28,325.72 L1532.01,326.42 L1533.81,326.87 L1535.67,327.08 L1537.58,327.06 L1539.53,326.86 L1541.50,326.50 L1543.50,326.02 L1545.00,325.58 L1546.50,324.98 L1548.00,324.38 L1549.50,323.80 L1551.00,323.23 L1552.50,322.71 L1554.00,322.22 L1555.50,321.77 L1557.00,321.34 L1558.50,320.94 L1560.00,320.54 L1563.00,319.82 L1566.00,319.11 L1569.00,318.40 L1572.00,317.69 L1575.00,316.99 L1578.00,316.30 L1581.00,315.60 L1584.00,314.91 L1587.00,314.22 L1590.00,313.54 L1593.00,312.86 L1596.00,312.18 L1599.00,311.51 L1602.00,310.84 L1605.00,310.18 L1608.00,309.51 L1611.00,308.85 L1614.00,308.20 L1617.00,307.55 L1620.00,306.90 L1623.00,306.26 L1626.00,305.61 L1629.00,304.98 L1632.00,304.34 L1635.00,303.71 L1638.00,303.09 L1641.00,302.46 L1644.00,301.84 L1647.00,301.22 L1650.00,300.61 L1653.00,300.00 L1656.00,299.39 L1659.00,298.79 L1662.00,298.19 L1665.00,297.59 L1668.00,297.00 L1671.00,296.41 L1674.00,295.82 L1677.00,295.24 L1680.00,294.66 L1683.00,294.08 L1686.00,293.51 L1689.00,292.94 L1692.00,292.37 L1695.00,291.80 L1698.00,291.24 L1701.00,290.68 L1704.00,290.13 L1707.00,289.58 L1710.00,289.03 L1713.00,288.48 L1716.00,287.94 L1719.00,287.40 L1722.00,286.87 L1725.00,286.33 L1728.00,285.80 L1731.00,285.28 L1734.00,284.75 L1737.00,284.23 L1740.00,283.71 L1743.00,283.20 L1746.00,282.69 L1749.00,282.18 L1752.00,281.67 L1755.00,281.17 L1758.00,280.67 L1761.00,280.18 L1764.00,279.68 L1767.00,279.19 L1770.00,278.70 L1773.00,278.22 L1776.00,277.74 L1779.00,277.26 L1782.00,276.78 L1785.00,276.31 L1788.00,275.84 L1791.00,275.37 L1794.00,274.90 L1797.00,274.44 L1800.00,273.98 L1803.00,273.52 L1806.00,273.07 L1809.00,272.62 L1812.00,272.17 L1815.00,271.72 L1818.00,271.28 L1821.00,270.84 L1824.00,270.40 L1827.00,269.97 L1830.00,269.54 L1833.00,269.11 L1836.00,268.68 L1839.00,268.26 L1842.00,267.84 L1845.00,267.42 L1848.00,267.00 L1851.00,266.59 L1854.00,266.18 L1857.00,265.77 L1860.00,265.36 L1863.00,264.96 L1866.00,264.56 L1869.00,264.16 L1872.00,263.76 L1875.00,263.37 L1878.00,262.98 L1881.00,262.59 L1884.00,262.20 L1887.00,261.82 L1890.00,261.44 L1893.00,261.06 L1896.00,260.68 L1899.00,260.31 L1902.00,259.94 L1905.00,259.57 L1908.00,259.20 L1911.00,258.84 L1914.00,258.48 L1917.00,258.12 L1920.00,257.76 L1923.00,257.41 L1926.00,257.05 L1929.00,256.70 L1932.00,256.36 L1935.00,256.01 L1938.00,255.67 L1941.00,255.32 L1944.00,254.99 L1947.00,254.65 L1950.00,254.31 L1953.00,253.98 L1956.00,253.65 L1959.00,253.32 L1962.00,253.00 L1965.00,252.67 L1968.00,252.35 L1971.00,252.03 L1974.00,251.72 L1977.00,251.40 L1980.00,251.09 L1983.00,250.78 L1986.00,250.47 L1989.00,250.16 L1992.00,249.86 L1995.00,249.55 L1998.00,249.25 L2001.00,248.95 L2004.00,248.66 L2007.00,248.36 L2010.00,248.07 L2013.00,247.78 L2016.00,247.49 L2019.00,247.20 L2022.00,246.92 L2025.00,246.64 L2028.00,246.35 L2031.00,246.08 L2034.00,245.80 L2037.00,245.52 L2040.00,245.25 L2043.00,244.98 L2046.00,244.71 L2049.00,244.44 L2052.00,244.17 L2055.00,243.91 L2058.00,243.65 L2061.00,243.38 L2064.00,243.13 L2067.00,242.87 L2070.00,242.61 L2073.00,242.36 L2076.00,242.11 L2079.00,241.86 L2082.00,241.61 L2085.00,241.36 L2088.00,241.11 L2091.00,240.87 L2094.00,240.63 L2097.00,240.39 L2100.00,240.15 L2103.00,239.91 L2106.00,239.68 L2109.00,239.44 L2112.00,239.21 L2115.00,238.98 L2118.00,238.75 L2121.00,238.52 L2124.00,238.29 L2127.00,238.07 L2130.00,237.85 L2133.00,237.63 L2136.00,237.40 L2139.00,237.19 L2142.00,236.97 L2145.00,236.75 L2148.00,236.54 L2151.00,236.33 L2154.00,236.11 L2157.00,235.90 L2160.00,235.69 L2163.00,235.49 L2166.00,235.28 L2169.00,235.08 L2172.00,234.87 L2175.00,234.67 L2178.00,234.47 L2181.00,234.27 L2184.00,234.07 L2187.00,233.88 L2190.00,233.68 L2193.00,233.49 L2196.00,233.29 L2199.00,233.10 L2202.00,232.91 L2205.00,232.72 L2208.00,232.53 L2211.00,232.35 L2214.00,232.16 L2217.00,231.98 L2220.00,231.79 L2223.00,231.61 L2226.00,231.43 L2229.00,231.25 L2232.00,231.07 L2235.00,230.89 L2238.00,230.72 L2241.00,230.54 L2244.00,230.37 L2247.00,230.19 L2250.00,230.02 L2253.00,229.85 L2256.00,229.68 L2259.00,229.51 L2262.00,229.34 L2265.00,229.17 L2268.00,229.01 L2271.00,228.84 L2274.00,228.68 L2277.00,228.51 L2280.00,228.35 L2283.00,228.19 L2286.00,228.03 L2289.00,227.87 L2292.00,227.71 L2295.00,227.55 L2297.50,227.42" fill="none" stroke="#0000ff" stroke-width="3.8" stroke-linejoin="round"/>
<path d="M1457.50,192.00 L1490.50,191.36 L1491.20,190.96 L1491.90,190.71 L1492.60,190.58 L1493.30,190.58 L1494.00,190.69 L1494.70,190.89 L1495.40,191.19 L1496.10,191.57 L1496.80,192.01 L1497.50,192.52 L1498.20,193.07 L1498.90,193.67 L1499.60,194.29 L1500.30,194.94 L1501.00,195.61 L1501.70,196.28 L1502.40,196.95 L1503.10,197.61 L1503.80,198.26 L1504.50,198.88 L1505.20,199.49 L1505.90,200.07 L1506.60,200.63 L1507.30,201.18 L1508.00,201.70 L1508.70,202.21 L1509.40,202.70 L1510.10,203.18 L1510.80,203.64 L1511.50,204.08 L1512.20,204.51 L1512.90,204.92 L1513.60,205.33 L1514.30,205.71 L1515.00,206.09 L1515.70,206.45 L1516.40,206.80 L1517.10,207.14 L1517.80,207.47 L1518.50,207.79 L1519.20,208.10 L1519.90,208.41 L1520.60,208.70 L1521.30,208.99 L1522.00,209.27 L1522.70,209.54 L1523.40,209.81 L1524.10,210.07 L1524.80,210.33 L1525.50,210.58 L1526.20,210.83 L1526.90,211.07 L1527.60,211.32 L1528.30,211.56 L1529.00,211.80 L1529.70,212.04 L1530.00,212.14 L1532.50,213.00 L1535.00,213.88 L1537.50,214.77 L1540.00,215.68 L1542.50,216.59 L1545.00,217.50 L1547.50,218.40 L1550.00,219.30 L1552.50,220.17 L1555.00,221.03 L1557.50,221.86 L1560.00,222.66 L1562.50,223.43 L1565.00,224.15 L1567.50,224.82 L1570.00,225.44 L1572.50,226.00 L1575.00,226.50 L1577.50,226.95 L1580.00,227.36 L1582.50,227.74 L1585.00,228.10 L1587.50,228.46 L1590.00,228.81 L1592.50,229.18 L1595.00,229.57 L1597.50,230.00 L1600.00,230.47 L1602.50,230.99 L1605.00,231.55 L1607.50,232.13 L1610.00,232.73 L1612.50,233.33 L1615.00,233.92 L1617.50,234.48 L1620.00,235.02 L1622.50,235.53 L1625.00,236.01 L1627.50,236.47 L1630.00,236.91 L1632.50,237.32 L1635.00,237.71 L1637.50,238.08 L1640.00,238.43 L1642.50,238.76 L1645.00,239.07 L1647.50,239.36 L1650.00,239.64 L1652.50,239.90 L1655.00,240.14 L1657.50,240.37 L1660.00,240.58 L1662.50,240.78 L1665.00,240.96 L1667.50,241.14 L1670.00,241.30 L1672.50,241.45 L1675.00,241.59 L1677.50,241.73 L1680.00,241.85 L1682.50,241.97 L1685.00,242.07 L1687.50,242.17 L1690.00,242.26 L1692.50,242.35 L1695.00,242.42 L1697.50,242.49 L1700.00,242.55 L1702.50,242.60 L1705.00,242.65 L1707.50,242.68 L1710.00,242.71 L1712.50,242.74 L1715.00,242.75 L1717.50,242.76 L1720.00,242.77 L1722.50,242.76 L1725.00,242.75 L1727.50,242.73 L1730.00,242.71 L1732.50,242.68 L1735.00,242.65 L1737.50,242.61 L1740.00,242.56 L1742.50,242.51 L1745.00,242.45 L1747.50,242.39 L1750.00,242.32 L1752.50,242.25 L1755.00,242.17 L1757.50,242.08 L1760.00,242.00 L1762.50,241.90 L1765.00,241.81 L1767.50,241.71 L1770.00,241.60 L1772.50,241.49 L1775.00,241.38 L1777.50,241.26 L1780.00,241.14 L1782.50,241.01 L1785.00,240.88 L1787.50,240.75 L1790.00,240.61 L1792.50,240.47 L1795.00,240.33 L1797.50,240.19 L1800.00,240.04 L1802.50,239.89 L1805.00,239.74 L1807.50,239.58 L1810.00,239.42 L1812.50,239.26 L1815.00,239.10 L1817.50,238.94 L1820.00,238.77 L1822.50,238.60 L1825.00,238.43 L1827.50,238.26 L1830.00,238.09 L1832.50,237.92 L1835.00,237.74 L1837.50,237.57 L1840.00,237.39 L1842.50,237.21 L1845.00,237.03 L1847.50,236.85 L1850.00,236.68 L1852.50,236.50 L1855.00,236.32 L1857.50,236.14 L1860.00,235.96 L1862.50,235.78 L1865.00,235.60 L1867.50,235.42 L1870.00,235.24 L1872.50,235.06 L1875.00,234.89 L1877.50,234.71 L1880.00,234.53 L1882.50,234.36 L1885.00,234.18 L1887.50,234.00 L1890.00,233.83 L1892.50,233.65 L1895.00,233.48 L1897.50,233.30 L1900.00,233.13 L1902.50,232.96 L1905.00,232.78 L1907.50,232.61 L1910.00,232.44 L1912.50,232.27 L1915.00,232.10 L1917.50,231.92 L1920.00,231.75 L1922.50,231.58 L1925.00,231.41 L1927.50,231.24 L1930.00,231.07 L1932.50,230.90 L1935.00,230.74 L1937.50,230.57 L1940.00,230.40 L1942.50,230.23 L1945.00,230.07 L1947.50,229.90 L1950.00,229.73 L1952.50,229.57 L1955.00,229.40 L1957.50,229.24 L1960.00,229.07 L1962.50,228.91 L1965.00,228.74 L1967.50,228.58 L1970.00,228.42 L1972.50,228.26 L1975.00,228.09 L1977.50,227.93 L1980.00,227.77 L1982.50,227.61 L1985.00,227.45 L1987.50,227.29 L1990.00,227.13 L1992.50,226.97 L1995.00,226.81 L1997.50,226.65 L2000.00,226.49 L2002.50,226.34 L2005.00,226.18 L2007.50,226.02 L2010.00,225.87 L2012.50,225.71 L2015.00,225.56 L2017.50,225.40 L2020.00,225.25 L2022.50,225.09 L2025.00,224.94 L2027.50,224.79 L2030.00,224.63 L2032.50,224.48 L2035.00,224.33 L2037.50,224.18 L2040.00,224.03 L2042.50,223.88 L2045.00,223.73 L2047.50,223.58 L2050.00,223.43 L2052.50,223.28 L2055.00,223.13 L2057.50,222.99 L2060.00,222.84 L2062.50,222.69 L2065.00,222.54 L2067.50,222.40 L2070.00,222.25 L2072.50,222.11 L2075.00,221.96 L2077.50,221.82 L2080.00,221.68 L2082.50,221.53 L2085.00,221.39 L2087.50,221.25 L2090.00,221.11 L2092.50,220.97 L2095.00,220.83 L2097.50,220.69 L2100.00,220.55 L2102.50,220.41 L2105.00,220.27 L2107.50,220.13 L2110.00,219.99 L2112.50,219.86 L2115.00,219.72 L2117.50,219.58 L2120.00,219.45 L2122.50,219.31 L2125.00,219.18 L2127.50,219.04 L2130.00,218.91 L2132.50,218.78 L2135.00,218.64 L2137.50,218.51 L2140.00,218.38 L2142.50,218.25 L2145.00,218.12 L2147.50,217.99 L2150.00,217.86 L2152.50,217.73 L2155.00,217.60 L2157.50,217.47 L2160.00,217.35 L2162.50,217.22 L2165.00,217.09 L2167.50,216.97 L2170.00,216.84 L2172.50,216.72 L2175.00,216.59 L2177.50,216.47 L2180.00,216.34 L2182.50,216.22 L2185.00,216.10 L2187.50,215.98 L2190.00,215.86 L2192.50,215.73 L2195.00,215.61 L2197.50,215.49 L2200.00,215.38 L2202.50,215.26 L2205.00,215.14 L2207.50,215.02 L2210.00,214.90 L2212.50,214.79 L2215.00,214.67 L2217.50,214.56 L2220.00,214.44 L2222.50,214.33 L2225.00,214.21 L2227.50,214.10 L2230.00,213.99 L2232.50,213.88 L2235.00,213.77 L2237.50,213.66 L2240.00,213.54 L2242.50,213.44 L2245.00,213.33 L2247.50,213.22 L2250.00,213.11 L2252.50,213.00 L2255.00,212.90 L2257.50,212.79 L2260.00,212.68 L2262.50,212.58 L2265.00,212.47 L2267.50,212.37 L2270.00,212.27 L2272.50,212.16 L2275.00,212.06 L2277.50,211.96 L2280.00,211.86 L2282.50,211.76 L2285.00,211.66 L2287.50,211.56 L2290.00,211.46 L2292.50,211.36 L2295.00,211.26 L2297.50,211.17" fill="none" stroke="#000" stroke-width="3.9" stroke-linejoin="round"/>
<path d="M1457.50,191.81 L1459.48,191.79 L1461.47,191.78 L1463.47,191.78 L1465.46,191.79 L1467.45,191.80 L1469.43,191.82 L1471.40,191.84 L1473.37,191.85 L1475.34,191.85 L1477.33,191.83 L1479.35,191.77 L1481.40,191.67 L1483.49,191.52 L1485.56,191.43 L1487.50,191.56 L1489.22,192.07 L1490.61,193.11 L1491.69,194.59 L1492.58,196.23 L1493.32,197.97 L1493.93,199.79 L1494.43,201.68 L1494.84,203.62 L1495.19,205.60 L1495.49,207.60 L1495.77,209.61 L1496.04,211.61 L1496.29,213.61 L1496.53,215.61 L1496.77,217.61 L1496.99,219.60 L1497.20,221.60 L1497.40,223.59 L1497.59,225.58 L1497.78,227.56 L1497.95,229.55 L1498.12,231.54 L1498.28,233.52 L1498.44,235.50 L1498.58,237.48 L1498.73,239.46 L1498.86,241.44 L1498.99,243.42 L1499.12,245.40 L1499.24,247.38 L1499.36,249.36 L1499.47,251.33 L1499.59,253.31 L1499.70,255.29 L1499.81,257.26 L1499.91,259.24 L1500.02,261.22 L1500.12,263.20 L1500.23,265.18 L1500.33,267.16 L1500.44,269.14 L1500.54,271.12 L1500.65,273.10 L1500.76,275.08 L1500.86,277.07 L1500.97,279.05 L1501.07,281.03 L1501.18,283.02 L1501.28,285.00 L1501.39,286.99 L1501.49,288.97 L1501.60,290.96 L1501.70,292.95 L1501.80,294.93 L1501.90,296.92 L1502.00,298.91 L1502.10,300.90 L1502.19,302.88 L1502.29,304.87 L1502.38,306.86 L1502.47,308.85 L1502.56,310.84 L1502.64,312.83 L1502.73,314.81 L1502.81,316.80 L1502.89,318.79 L1502.96,320.78 L1503.04,322.77 L1503.11,324.75 L1503.18,326.74 L1503.24,328.73 L1503.30,330.72 L1503.36,332.70 L1503.42,334.69 L1503.47,336.68 L1503.52,338.66 L1503.56,340.65 L1503.60,342.63 L1503.64,344.62 L1503.67,346.60 L1503.70,348.58 L1503.72,350.57 L1503.74,352.55 L1503.76,354.53 L1503.77,356.51 L1503.77,358.49 L1503.77,360.47" fill="none" stroke="#707070" stroke-width="3.8" stroke-linejoin="round"/>
<path d="M1503.80,360.50 L1507.30,373.60 L1509.20,372.40 L1511.00,365.40 L1512.40,369.00 L1514.70,381.00 L1517.10,392.50 L1519.60,393.70 L1522.90,394.10 L1527.80,399.00 L1531.90,399.80" fill="none" stroke="#707070" stroke-width="3.8" stroke-linejoin="miter"/>
<path d="M1531.89,399.85 L1533.87,399.72 L1535.82,399.50 L1537.75,399.21 L1539.66,398.84 L1541.56,398.40 L1543.44,397.90 L1545.31,397.34 L1547.16,396.73 L1548.99,396.08 L1550.00,395.69 L1551.50,395.09 L1553.00,394.43 L1554.50,393.73 L1556.00,392.99 L1557.50,392.22 L1559.00,391.43 L1560.50,390.63 L1562.00,389.81 L1563.50,388.99 L1565.00,388.15 L1568.00,386.66 L1571.00,385.17 L1574.00,383.69 L1577.00,382.22 L1580.00,380.76 L1583.00,379.30 L1586.00,377.86 L1589.00,376.42 L1592.00,375.00 L1595.00,373.58 L1598.00,372.18 L1601.00,370.79 L1604.00,369.41 L1607.00,368.05 L1610.00,366.70 L1613.00,365.36 L1616.00,364.04 L1619.00,362.73 L1622.00,361.44 L1625.00,360.17 L1628.00,358.91 L1631.00,357.67 L1634.00,356.45 L1637.00,355.25 L1640.00,354.07 L1643.00,352.91 L1646.00,351.76 L1649.00,350.63 L1652.00,349.52 L1655.00,348.43 L1658.00,347.35 L1661.00,346.29 L1664.00,345.25 L1667.00,344.22 L1670.00,343.20 L1673.00,342.20 L1676.00,341.22 L1679.00,340.25 L1682.00,339.29 L1685.00,338.35 L1688.00,337.42 L1691.00,336.50 L1694.00,335.60 L1697.00,334.71 L1700.00,333.82 L1703.00,332.96 L1706.00,332.10 L1709.00,331.25 L1712.00,330.41 L1715.00,329.59 L1718.00,328.77 L1721.00,327.96 L1724.00,327.16 L1727.00,326.37 L1730.00,325.59 L1733.00,324.81 L1736.00,324.05 L1739.00,323.29 L1742.00,322.54 L1745.00,321.80 L1748.00,321.06 L1751.00,320.34 L1754.00,319.62 L1757.00,318.91 L1760.00,318.20 L1763.00,317.51 L1766.00,316.82 L1769.00,316.14 L1772.00,315.46 L1775.00,314.80 L1778.00,314.14 L1781.00,313.48 L1784.00,312.84 L1787.00,312.20 L1790.00,311.57 L1793.00,310.94 L1796.00,310.33 L1799.00,309.71 L1802.00,309.11 L1805.00,308.51 L1808.00,307.92 L1811.00,307.33 L1814.00,306.76 L1817.00,306.18 L1820.00,305.62 L1823.00,305.06 L1826.00,304.50 L1829.00,303.95 L1832.00,303.41 L1835.00,302.88 L1838.00,302.35 L1841.00,301.82 L1844.00,301.30 L1847.00,300.79 L1850.00,300.28 L1853.00,299.78 L1856.00,299.28 L1859.00,298.79 L1862.00,298.31 L1865.00,297.83 L1868.00,297.35 L1871.00,296.88 L1874.00,296.42 L1877.00,295.96 L1880.00,295.50 L1883.00,295.05 L1886.00,294.61 L1889.00,294.17 L1892.00,293.73 L1895.00,293.30 L1898.00,292.87 L1901.00,292.45 L1904.00,292.03 L1907.00,291.62 L1910.00,291.21 L1913.00,290.80 L1916.00,290.40 L1919.00,290.00 L1922.00,289.61 L1925.00,289.22 L1928.00,288.84 L1931.00,288.46 L1934.00,288.08 L1937.00,287.70 L1940.00,287.33 L1943.00,286.97 L1946.00,286.60 L1949.00,286.24 L1952.00,285.89 L1955.00,285.54 L1958.00,285.19 L1961.00,284.84 L1964.00,284.50 L1967.00,284.15 L1970.00,283.82 L1973.00,283.48 L1976.00,283.15 L1979.00,282.82 L1982.00,282.49 L1985.00,282.17 L1988.00,281.85 L1991.00,281.53 L1994.00,281.21 L1997.00,280.90 L2000.00,280.59 L2003.00,280.28 L2006.00,279.97 L2009.00,279.67 L2012.00,279.36 L2015.00,279.06 L2018.00,278.76 L2021.00,278.47 L2024.00,278.17 L2027.00,277.88 L2030.00,277.59 L2033.00,277.30 L2036.00,277.01 L2039.00,276.72 L2042.00,276.43 L2045.00,276.15 L2048.00,275.87 L2051.00,275.58 L2054.00,275.30 L2057.00,275.02 L2060.00,274.74 L2063.00,274.46 L2066.00,274.19 L2069.00,273.91 L2072.00,273.63 L2075.00,273.36 L2078.00,273.09 L2081.00,272.81 L2084.00,272.54 L2087.00,272.26 L2090.00,271.99 L2093.00,271.72 L2096.00,271.45 L2099.00,271.18 L2102.00,270.90 L2105.00,270.63 L2108.00,270.36 L2111.00,270.09 L2114.00,269.81 L2117.00,269.54 L2120.00,269.27 L2123.00,269.00 L2126.00,268.72 L2129.00,268.45 L2132.00,268.17 L2135.00,267.90 L2138.00,267.62 L2141.00,267.34 L2144.00,267.07 L2147.00,266.79 L2150.00,266.51 L2153.00,266.23 L2156.00,265.95 L2159.00,265.66 L2162.00,265.38 L2165.00,265.09 L2168.00,264.81 L2170.00,264.61" fill="none" stroke="#707070" stroke-width="3.7" stroke-linejoin="round"/>
<path d="M2170.00,265.20 L2178.20,264.30 L2182.30,265.20 L2186.40,263.50 L2190.50,264.30 L2194.60,263.10 L2198.70,263.90 L2204.40,261.50 L2209.30,263.50 L2214.30,260.20 L2219.20,263.50 L2224.90,258.20 L2229.00,264.30 L2234.80,255.30 L2238.90,268.40 L2244.60,254.10 L2249.10,274.20 L2253.60,249.60 L2259.30,281.60 L2263.00,233.60 L2268.60,285.70 L2272.80,209.80 L2276.30,293.20 L2282.70,180.50 L2286.40,347.50 L2292.90,156.50 L2297.00,438.00 L2300.20,142.50" fill="none" stroke="#707070" stroke-width="3.8" stroke-linejoin="bevel"/>
<line x1="148.1" y1="77" x2="148.1" y2="749" stroke="#000" stroke-width="4.2"/>
<line x1="148" y1="77.6" x2="154.8" y2="77.6" stroke="#000" stroke-width="1.3"/>
<line x1="148" y1="80.4" x2="154.8" y2="80.4" stroke="#000" stroke-width="1.1"/>
<line x1="146" y1="747" x2="1300" y2="747" stroke="#000" stroke-width="4"/>
<line x1="1298.6" y1="78" x2="1298.6" y2="749" stroke="#111" stroke-width="2"/>
<line x1="1292" y1="77.3" x2="1299.5" y2="77.3" stroke="#111" stroke-width="1.3"/>
<line x1="1292" y1="80.2" x2="1297" y2="80.2" stroke="#333" stroke-width="1"/>
<text transform="translate(138.60,84.52) scale(1.000,1)" font-size="28.0" text-anchor="end" fill="#000" font-family="Liberation Sans, sans-serif">.6</text>
<text transform="translate(138.60,195.90) scale(1.000,1)" font-size="28.0" text-anchor="end" fill="#000" font-family="Liberation Sans, sans-serif">.5</text>
<text transform="translate(138.60,307.28) scale(1.000,1)" font-size="28.0" text-anchor="end" fill="#000" font-family="Liberation Sans, sans-serif">.4</text>
<text transform="translate(138.60,418.66) scale(1.000,1)" font-size="28.0" text-anchor="end" fill="#000" font-family="Liberation Sans, sans-serif">.3</text>
<text transform="translate(138.60,530.04) scale(1.000,1)" font-size="28.0" text-anchor="end" fill="#000" font-family="Liberation Sans, sans-serif">.2</text>
<text transform="translate(138.60,641.42) scale(1.000,1)" font-size="28.0" text-anchor="end" fill="#000" font-family="Liberation Sans, sans-serif">.1</text>
<text transform="translate(138.60,752.80) scale(1.000,1)" font-size="28.0" text-anchor="end" fill="#000" font-family="Liberation Sans, sans-serif">0</text>
<text transform="translate(147.20,779.00) scale(1.000,1)" font-size="27.5" text-anchor="middle" fill="#000" font-family="Liberation Sans, sans-serif">1</text>
<text transform="translate(320.58,768.40) scale(1.000,1)" font-size="20.5" text-anchor="middle" fill="#000" font-family="Liberation Sans, sans-serif">2</text>
<text transform="translate(421.89,768.40) scale(1.000,1)" font-size="20.5" text-anchor="middle" fill="#000" font-family="Liberation Sans, sans-serif">3</text>
<text transform="translate(493.77,768.40) scale(1.000,1)" font-size="20.5" text-anchor="middle" fill="#000" font-family="Liberation Sans, sans-serif">4</text>
<text transform="translate(549.52,768.40) scale(1.000,1)" font-size="20.5" text-anchor="middle" fill="#000" font-family="Liberation Sans, sans-serif">5</text>
<text transform="translate(595.07,768.40) scale(1.000,1)" font-size="20.5" text-anchor="middle" fill="#000" font-family="Liberation Sans, sans-serif">6</text>
<text transform="translate(633.58,768.40) scale(1.000,1)" font-size="20.5" text-anchor="middle" fill="#000" font-family="Liberation Sans, sans-serif">7</text>
<text transform="translate(666.95,768.40) scale(1.000,1)" font-size="20.5" text-anchor="middle" fill="#000" font-family="Liberation Sans, sans-serif">8</text>
<text transform="translate(696.38,768.40) scale(1.000,1)" font-size="20.5" text-anchor="middle" fill="#000" font-family="Liberation Sans, sans-serif">9</text>
<text transform="translate(895.88,768.40) scale(1.000,1)" font-size="20.5" text-anchor="middle" fill="#000" font-family="Liberation Sans, sans-serif">2</text>
<text transform="translate(997.19,768.40) scale(1.000,1)" font-size="20.5" text-anchor="middle" fill="#000" font-family="Liberation Sans, sans-serif">3</text>
<text transform="translate(1069.07,768.40) scale(1.000,1)" font-size="20.5" text-anchor="middle" fill="#000" font-family="Liberation Sans, sans-serif">4</text>
<text transform="translate(1124.82,768.40) scale(1.000,1)" font-size="20.5" text-anchor="middle" fill="#000" font-family="Liberation Sans, sans-serif">5</text>
<text transform="translate(1170.37,768.40) scale(1.000,1)" font-size="20.5" text-anchor="middle" fill="#000" font-family="Liberation Sans, sans-serif">6</text>
<text transform="translate(1208.88,768.40) scale(1.000,1)" font-size="20.5" text-anchor="middle" fill="#000" font-family="Liberation Sans, sans-serif">7</text>
<text transform="translate(1242.25,768.40) scale(1.000,1)" font-size="20.5" text-anchor="middle" fill="#000" font-family="Liberation Sans, sans-serif">8</text>
<text transform="translate(1271.68,768.40) scale(1.000,1)" font-size="20.5" text-anchor="middle" fill="#000" font-family="Liberation Sans, sans-serif">9</text>
<text transform="translate(723.40,779.00) scale(1.000,1)" font-size="27.5" text-anchor="middle" fill="#000" font-family="Liberation Sans, sans-serif">10</text>
<text transform="translate(1298.80,779.00) scale(1.000,1)" font-size="27.5" text-anchor="middle" fill="#000" font-family="Liberation Sans, sans-serif">10</text>
<text transform="translate(1318.00,766.00) scale(1.000,1)" font-size="19.0" text-anchor="start" fill="#000" font-family="Liberation Sans, sans-serif">2</text>
<text transform="translate(723.00,811.10) scale(1.065,1)" font-size="30.0" text-anchor="middle" fill="#000" font-family="Liberation Sans, sans-serif">Elapsed Time [s]</text>
<text transform="translate(97.9,368.2) rotate(-90) scale(0.993,1)" font-size="40" text-anchor="middle" font-family="Liberation Sans, sans-serif">Rel. Spool Speed</text>
<line x1="1456.9" y1="79.5" x2="1456.9" y2="750.5" stroke="#000" stroke-width="3.7"/>
<line x1="1455" y1="748.6" x2="2405.5" y2="748.6" stroke="#000" stroke-width="4"/>
<text transform="translate(1445,80.48) rotate(-90) scale(1.03,1)" font-size="22" text-anchor="middle" font-family="Liberation Sans, sans-serif">200</text>
<text transform="translate(1445,191.90) rotate(-90) scale(1.03,1)" font-size="22" text-anchor="middle" font-family="Liberation Sans, sans-serif">0</text>
<text transform="translate(1445,303.32) rotate(-90) scale(1.03,1)" font-size="22" text-anchor="middle" font-family="Liberation Sans, sans-serif">-200</text>
<text transform="translate(1445,414.74) rotate(-90) scale(1.03,1)" font-size="22" text-anchor="middle" font-family="Liberation Sans, sans-serif">-400</text>
<text transform="translate(1445,526.16) rotate(-90) scale(1.03,1)" font-size="22" text-anchor="middle" font-family="Liberation Sans, sans-serif">-600</text>
<text transform="translate(1445,637.58) rotate(-90) scale(1.03,1)" font-size="22" text-anchor="middle" font-family="Liberation Sans, sans-serif">-800</text>
<text transform="translate(1445,749.00) rotate(-90) scale(1.03,1)" font-size="22" text-anchor="middle" font-family="Liberation Sans, sans-serif">-1000</text>
<text transform="translate(1456.30,780.80) scale(1.000,1)" font-size="27.5" text-anchor="middle" fill="#000" font-family="Liberation Sans, sans-serif">0</text>
<text transform="translate(1591.62,780.80) scale(1.000,1)" font-size="27.5" text-anchor="middle" fill="#000" font-family="Liberation Sans, sans-serif">4</text>
<text transform="translate(1726.94,780.80) scale(1.000,1)" font-size="27.5" text-anchor="middle" fill="#000" font-family="Liberation Sans, sans-serif">8</text>
<text transform="translate(1862.26,780.80) scale(1.000,1)" font-size="27.5" text-anchor="middle" fill="#000" font-family="Liberation Sans, sans-serif">12</text>
<text transform="translate(1997.58,780.80) scale(1.000,1)" font-size="27.5" text-anchor="middle" fill="#000" font-family="Liberation Sans, sans-serif">16</text>
<text transform="translate(2132.90,780.80) scale(1.000,1)" font-size="27.5" text-anchor="middle" fill="#000" font-family="Liberation Sans, sans-serif">20</text>
<text transform="translate(2268.22,780.80) scale(1.000,1)" font-size="27.5" text-anchor="middle" fill="#000" font-family="Liberation Sans, sans-serif">24</text>
<text transform="translate(2403.54,780.80) scale(1.000,1)" font-size="27.5" text-anchor="middle" fill="#000" font-family="Liberation Sans, sans-serif">28</text>
<text transform="translate(1931.60,812.80) scale(1.065,1)" font-size="30.0" text-anchor="middle" fill="#000" font-family="Liberation Sans, sans-serif">Elapsed Time [s]</text>
<text transform="translate(1409.5,372.35) rotate(-90) scale(0.995,1)" font-size="40" text-anchor="middle" font-family="Liberation Sans, sans-serif">Heat Soakage</text>
</svg>
</body></html>
